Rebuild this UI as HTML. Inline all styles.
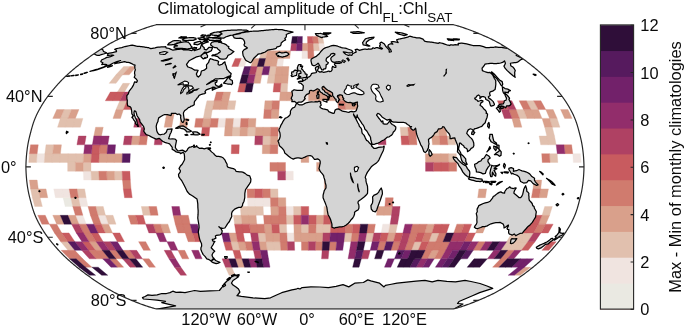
<!DOCTYPE html>
<html><head><meta charset="utf-8"><title>Climatological amplitude of ChlFL:ChlSAT</title>
<style>html,body{margin:0;padding:0;background:#fff;overflow:hidden}svg{display:block}</style></head>
<body><svg width="685" height="326" viewBox="0 0 685 326">
<defs><clipPath id="fc"><path d="M453.46,24.72 L454.43,24.97 L455.43,25.24 L456.47,25.52 L457.54,25.83 L458.64,26.17 L459.78,26.52 L460.95,26.89 L462.15,27.28 L463.37,27.69 L464.62,28.12 L465.90,28.57 L467.20,29.03 L468.53,29.51 L469.87,30.01 L471.24,30.53 L472.62,31.06 L474.03,31.61 L475.44,32.17 L476.88,32.75 L478.32,33.34 L479.78,33.94 L481.25,34.56 L482.72,35.19 L484.19,35.83 L485.66,36.48 L487.12,37.14 L488.57,37.80 L490.01,38.48 L491.42,39.16 L492.81,39.85 L494.17,40.54 L495.51,41.23 L496.82,41.93 L498.11,42.64 L499.38,43.35 L500.63,44.06 L501.86,44.78 L503.08,45.51 L504.28,46.23 L505.48,46.97 L506.66,47.70 L507.83,48.45 L509.00,49.19 L510.15,49.94 L511.30,50.70 L512.44,51.45 L513.58,52.22 L514.71,52.98 L515.83,53.75 L516.95,54.53 L518.06,55.30 L519.16,56.08 L520.26,56.87 L521.36,57.66 L522.45,58.45 L523.53,59.24 L524.61,60.04 L525.68,60.84 L526.74,61.64 L527.80,62.44 L528.85,63.25 L529.89,64.06 L530.93,64.88 L531.96,65.69 L532.98,66.51 L533.99,67.33 L535.00,68.16 L535.99,68.98 L536.98,69.81 L537.96,70.64 L538.93,71.48 L539.89,72.31 L540.84,73.15 L541.78,73.99 L542.70,74.83 L543.62,75.68 L544.52,76.52 L545.41,77.37 L546.28,78.22 L547.14,79.07 L547.98,79.93 L548.81,80.78 L549.62,81.64 L550.42,82.49 L551.22,83.35 L552.00,84.22 L552.77,85.08 L553.53,85.94 L554.29,86.81 L555.04,87.67 L555.78,88.54 L556.52,89.41 L557.26,90.28 L557.98,91.15 L558.70,92.02 L559.41,92.89 L560.11,93.76 L560.79,94.63 L561.46,95.51 L562.12,96.38 L562.77,97.26 L563.40,98.14 L564.02,99.01 L564.62,99.89 L565.22,100.77 L565.80,101.65 L566.37,102.53 L566.92,103.41 L567.47,104.29 L568.01,105.17 L568.54,106.05 L569.06,106.93 L569.57,107.81 L570.07,108.69 L570.56,109.57 L571.04,110.45 L571.51,111.33 L571.96,112.22 L572.41,113.10 L572.84,113.98 L573.26,114.86 L573.67,115.74 L574.06,116.62 L574.44,117.50 L574.81,118.39 L575.17,119.27 L575.51,120.15 L575.84,121.03 L576.16,121.91 L576.47,122.79 L576.76,123.67 L577.04,124.55 L577.32,125.43 L577.58,126.32 L577.83,127.20 L578.08,128.08 L578.33,128.96 L578.56,129.84 L578.80,130.72 L579.03,131.60 L579.27,132.48 L579.50,133.36 L579.73,134.25 L579.96,135.13 L580.18,136.01 L580.40,136.89 L580.61,137.77 L580.82,138.65 L581.02,139.53 L581.21,140.41 L581.40,141.30 L581.57,142.18 L581.74,143.06 L581.90,143.94 L582.05,144.82 L582.20,145.70 L582.34,146.58 L582.47,147.46 L582.60,148.35 L582.72,149.23 L582.83,150.11 L582.94,150.99 L583.04,151.87 L583.14,152.75 L583.23,153.63 L583.32,154.51 L583.40,155.39 L583.48,156.28 L583.55,157.16 L583.61,158.04 L583.67,158.92 L583.73,159.80 L583.78,160.68 L583.82,161.56 L583.86,162.44 L583.90,163.33 L583.93,164.21 L583.96,165.09 L583.98,165.97 L584.00,166.85 L583.98,167.73 L583.96,168.61 L583.93,169.49 L583.90,170.37 L583.86,171.26 L583.82,172.14 L583.78,173.02 L583.73,173.90 L583.67,174.78 L583.61,175.66 L583.55,176.54 L583.48,177.42 L583.40,178.31 L583.32,179.19 L583.23,180.07 L583.14,180.95 L583.04,181.83 L582.94,182.71 L582.83,183.59 L582.72,184.47 L582.60,185.35 L582.47,186.24 L582.34,187.12 L582.20,188.00 L582.05,188.88 L581.90,189.76 L581.74,190.64 L581.57,191.52 L581.40,192.40 L581.21,193.29 L581.02,194.17 L580.82,195.05 L580.61,195.93 L580.40,196.81 L580.18,197.69 L579.96,198.57 L579.73,199.45 L579.50,200.34 L579.27,201.22 L579.03,202.10 L578.80,202.98 L578.56,203.86 L578.33,204.74 L578.08,205.62 L577.83,206.50 L577.58,207.38 L577.32,208.27 L577.04,209.15 L576.76,210.03 L576.47,210.91 L576.16,211.79 L575.84,212.67 L575.51,213.55 L575.17,214.43 L574.81,215.31 L574.44,216.20 L574.06,217.08 L573.67,217.96 L573.26,218.84 L572.84,219.72 L572.41,220.60 L571.96,221.48 L571.51,222.37 L571.04,223.25 L570.56,224.13 L570.07,225.01 L569.57,225.89 L569.06,226.77 L568.54,227.65 L568.01,228.53 L567.47,229.41 L566.92,230.29 L566.37,231.17 L565.80,232.05 L565.22,232.93 L564.62,233.81 L564.02,234.69 L563.40,235.56 L562.77,236.44 L562.12,237.32 L561.46,238.19 L560.79,239.07 L560.11,239.94 L559.41,240.81 L558.70,241.68 L557.98,242.55 L557.26,243.42 L556.52,244.29 L555.78,245.16 L555.04,246.03 L554.29,246.89 L553.53,247.76 L552.77,248.62 L552.00,249.48 L551.22,250.35 L550.42,251.21 L549.62,252.06 L548.81,252.92 L547.98,253.77 L547.14,254.63 L546.28,255.48 L545.41,256.33 L544.52,257.18 L543.62,258.02 L542.70,258.87 L541.78,259.71 L540.84,260.55 L539.89,261.39 L538.93,262.22 L537.96,263.06 L536.98,263.89 L535.99,264.72 L535.00,265.54 L533.99,266.37 L532.98,267.19 L531.96,268.01 L530.93,268.82 L529.89,269.64 L528.85,270.45 L527.80,271.26 L526.74,272.06 L525.68,272.86 L524.61,273.66 L523.53,274.46 L522.45,275.25 L521.36,276.04 L520.26,276.83 L519.16,277.62 L518.06,278.40 L516.95,279.17 L515.83,279.95 L514.71,280.72 L513.58,281.48 L512.44,282.25 L511.30,283.00 L510.15,283.76 L509.00,284.51 L507.83,285.25 L506.66,286.00 L505.48,286.73 L504.28,287.47 L503.08,288.19 L501.86,288.92 L500.63,289.64 L499.38,290.35 L498.11,291.06 L496.82,291.77 L495.51,292.47 L494.17,293.16 L492.81,293.85 L491.42,294.54 L490.01,295.22 L488.57,295.90 L487.12,296.56 L485.66,297.22 L484.19,297.87 L482.72,298.51 L481.25,299.14 L479.78,299.76 L478.32,300.36 L476.88,300.95 L475.44,301.53 L474.03,302.09 L472.62,302.64 L471.24,303.17 L469.87,303.69 L468.53,304.19 L467.20,304.67 L465.90,305.13 L464.62,305.58 L463.37,306.01 L462.15,306.42 L460.95,306.81 L459.78,307.18 L458.64,307.53 L457.54,307.87 L456.47,308.18 L455.43,308.46 L454.43,308.73 L453.46,308.98 L156.44,308.98 L155.47,308.73 L154.47,308.46 L153.43,308.18 L152.36,307.87 L151.26,307.53 L150.12,307.18 L148.95,306.81 L147.75,306.42 L146.53,306.01 L145.28,305.58 L144.00,305.13 L142.70,304.67 L141.37,304.19 L140.03,303.69 L138.66,303.17 L137.28,302.64 L135.87,302.09 L134.46,301.53 L133.02,300.95 L131.58,300.36 L130.12,299.76 L128.65,299.14 L127.18,298.51 L125.71,297.87 L124.24,297.22 L122.78,296.56 L121.33,295.90 L119.89,295.22 L118.48,294.54 L117.09,293.85 L115.73,293.16 L114.39,292.47 L113.08,291.77 L111.79,291.06 L110.52,290.35 L109.27,289.64 L108.04,288.92 L106.82,288.19 L105.62,287.47 L104.42,286.73 L103.24,286.00 L102.07,285.25 L100.90,284.51 L99.75,283.76 L98.60,283.00 L97.46,282.25 L96.32,281.48 L95.19,280.72 L94.07,279.95 L92.95,279.17 L91.84,278.40 L90.74,277.62 L89.64,276.83 L88.54,276.04 L87.45,275.25 L86.37,274.46 L85.29,273.66 L84.22,272.86 L83.16,272.06 L82.10,271.26 L81.05,270.45 L80.01,269.64 L78.97,268.82 L77.94,268.01 L76.92,267.19 L75.91,266.37 L74.90,265.54 L73.91,264.72 L72.92,263.89 L71.94,263.06 L70.97,262.22 L70.01,261.39 L69.06,260.55 L68.12,259.71 L67.20,258.87 L66.28,258.02 L65.38,257.18 L64.49,256.33 L63.62,255.48 L62.76,254.63 L61.92,253.77 L61.09,252.92 L60.28,252.06 L59.48,251.21 L58.68,250.35 L57.90,249.48 L57.13,248.62 L56.37,247.76 L55.61,246.89 L54.86,246.03 L54.12,245.16 L53.38,244.29 L52.64,243.42 L51.92,242.55 L51.20,241.68 L50.49,240.81 L49.79,239.94 L49.11,239.07 L48.44,238.19 L47.78,237.32 L47.13,236.44 L46.50,235.56 L45.88,234.69 L45.28,233.81 L44.68,232.93 L44.10,232.05 L43.53,231.17 L42.98,230.29 L42.43,229.41 L41.89,228.53 L41.36,227.65 L40.84,226.77 L40.33,225.89 L39.83,225.01 L39.34,224.13 L38.86,223.25 L38.39,222.37 L37.94,221.48 L37.49,220.60 L37.06,219.72 L36.64,218.84 L36.23,217.96 L35.84,217.08 L35.46,216.20 L35.09,215.31 L34.73,214.43 L34.39,213.55 L34.06,212.67 L33.74,211.79 L33.43,210.91 L33.14,210.03 L32.86,209.15 L32.58,208.27 L32.32,207.38 L32.07,206.50 L31.82,205.62 L31.57,204.74 L31.34,203.86 L31.10,202.98 L30.87,202.10 L30.63,201.22 L30.40,200.34 L30.17,199.45 L29.94,198.57 L29.72,197.69 L29.50,196.81 L29.29,195.93 L29.08,195.05 L28.88,194.17 L28.69,193.29 L28.50,192.40 L28.33,191.52 L28.16,190.64 L28.00,189.76 L27.85,188.88 L27.70,188.00 L27.56,187.12 L27.43,186.24 L27.30,185.35 L27.18,184.47 L27.07,183.59 L26.96,182.71 L26.86,181.83 L26.76,180.95 L26.67,180.07 L26.58,179.19 L26.50,178.31 L26.42,177.42 L26.35,176.54 L26.29,175.66 L26.23,174.78 L26.17,173.90 L26.12,173.02 L26.08,172.14 L26.04,171.26 L26.00,170.37 L25.97,169.49 L25.94,168.61 L25.92,167.73 L25.90,166.85 L25.92,165.97 L25.94,165.09 L25.97,164.21 L26.00,163.33 L26.04,162.44 L26.08,161.56 L26.12,160.68 L26.17,159.80 L26.23,158.92 L26.29,158.04 L26.35,157.16 L26.42,156.28 L26.50,155.39 L26.58,154.51 L26.67,153.63 L26.76,152.75 L26.86,151.87 L26.96,150.99 L27.07,150.11 L27.18,149.23 L27.30,148.35 L27.43,147.46 L27.56,146.58 L27.70,145.70 L27.85,144.82 L28.00,143.94 L28.16,143.06 L28.33,142.18 L28.50,141.30 L28.69,140.41 L28.88,139.53 L29.08,138.65 L29.29,137.77 L29.50,136.89 L29.72,136.01 L29.94,135.13 L30.17,134.25 L30.40,133.36 L30.63,132.48 L30.87,131.60 L31.10,130.72 L31.34,129.84 L31.57,128.96 L31.82,128.08 L32.07,127.20 L32.32,126.32 L32.58,125.43 L32.86,124.55 L33.14,123.67 L33.43,122.79 L33.74,121.91 L34.06,121.03 L34.39,120.15 L34.73,119.27 L35.09,118.39 L35.46,117.50 L35.84,116.62 L36.23,115.74 L36.64,114.86 L37.06,113.98 L37.49,113.10 L37.94,112.22 L38.39,111.33 L38.86,110.45 L39.34,109.57 L39.83,108.69 L40.33,107.81 L40.84,106.93 L41.36,106.05 L41.89,105.17 L42.43,104.29 L42.98,103.41 L43.53,102.53 L44.10,101.65 L44.68,100.77 L45.28,99.89 L45.88,99.01 L46.50,98.14 L47.13,97.26 L47.78,96.38 L48.44,95.51 L49.11,94.63 L49.79,93.76 L50.49,92.89 L51.20,92.02 L51.92,91.15 L52.64,90.28 L53.38,89.41 L54.12,88.54 L54.86,87.67 L55.61,86.81 L56.37,85.94 L57.13,85.08 L57.90,84.22 L58.68,83.35 L59.48,82.49 L60.28,81.64 L61.09,80.78 L61.92,79.93 L62.76,79.07 L63.62,78.22 L64.49,77.37 L65.38,76.52 L66.28,75.68 L67.20,74.83 L68.12,73.99 L69.06,73.15 L70.01,72.31 L70.97,71.48 L71.94,70.64 L72.92,69.81 L73.91,68.98 L74.90,68.16 L75.91,67.33 L76.92,66.51 L77.94,65.69 L78.97,64.88 L80.01,64.06 L81.05,63.25 L82.10,62.44 L83.16,61.64 L84.22,60.84 L85.29,60.04 L86.37,59.24 L87.45,58.45 L88.54,57.66 L89.64,56.87 L90.74,56.08 L91.84,55.30 L92.95,54.53 L94.07,53.75 L95.19,52.98 L96.32,52.22 L97.46,51.45 L98.60,50.70 L99.75,49.94 L100.90,49.19 L102.07,48.45 L103.24,47.70 L104.42,46.97 L105.62,46.23 L106.82,45.51 L108.04,44.78 L109.27,44.06 L110.52,43.35 L111.79,42.64 L113.08,41.93 L114.39,41.23 L115.73,40.54 L117.09,39.85 L118.48,39.16 L119.89,38.48 L121.33,37.80 L122.78,37.14 L124.24,36.48 L125.71,35.83 L127.18,35.19 L128.65,34.56 L130.12,33.94 L131.58,33.34 L133.02,32.75 L134.46,32.17 L135.87,31.61 L137.28,31.06 L138.66,30.53 L140.03,30.01 L141.37,29.51 L142.70,29.03 L144.00,28.57 L145.28,28.12 L146.53,27.69 L147.75,27.28 L148.95,26.89 L150.12,26.52 L151.26,26.17 L152.36,25.83 L153.43,25.52 L154.47,25.24 L155.47,24.97 L156.44,24.72Z"/></clipPath></defs>
<g clip-path="url(#fc)">
<path fill="#eae9e2" stroke="#eae9e2" stroke-width="0.35" d="M63.11,197.69L70.79,197.69L72.78,206.50L65.17,206.50Z"/>
<path fill="#f0e4e0" stroke="#f0e4e0" stroke-width="0.35" d="M37.14,153.63L44.90,153.63L44.31,162.44L36.53,162.44ZM83.21,171.26L90.99,171.26L91.48,180.07L83.72,180.07ZM302.07,50.70L307.83,50.70L307.98,58.45L301.92,58.45ZM241.25,58.45L247.31,58.45L244.52,66.51L238.16,66.51ZM277.65,58.45L283.72,58.45L282.69,66.51L276.33,66.51ZM318.51,43.35L323.93,43.35L325.10,50.70L319.34,50.70ZM301.41,92.02L308.49,92.02L308.58,100.77L301.32,100.77ZM218.38,118.39L225.91,118.39L225.02,127.20L217.41,127.20ZM233.44,118.39L240.96,118.39L240.25,127.20L232.64,127.20ZM285.50,171.26L293.28,171.26L293.31,180.07L285.54,180.07ZM247.37,197.69L255.05,197.69L255.47,206.50L247.86,206.50ZM255.05,197.69L262.72,197.69L263.08,206.50L255.47,206.50ZM262.72,197.69L270.40,197.69L270.70,206.50L263.08,206.50ZM285.92,206.50L293.53,206.50L293.66,215.31L286.13,215.31ZM286.80,232.93L294.06,232.93L294.33,241.68L287.25,241.68ZM53.73,188.88L61.46,188.88L63.11,197.69L55.43,197.69ZM61.46,188.88L69.19,188.88L70.79,197.69L63.11,197.69ZM78.47,197.69L86.14,197.69L88.01,206.50L80.40,206.50ZM75.36,215.31L82.88,215.31L86.38,224.13L78.97,224.13ZM97.94,215.31L105.47,215.31L108.61,224.13L101.20,224.13ZM382.75,224.13L390.15,224.13L388.44,232.93L381.18,232.93ZM572.76,153.63L580.52,153.63L581.15,162.44L573.37,162.44Z"/>
<path fill="#e1c0ae" stroke="#e1c0ae" stroke-width="0.35" d="M119.82,100.77L127.08,100.77L123.43,109.57L116.02,109.57ZM64.15,109.57L71.56,109.57L67.83,118.39L60.30,118.39ZM60.30,118.39L67.83,118.39L65.17,127.20L57.56,127.20ZM67.83,118.39L75.36,118.39L72.78,127.20L65.17,127.20ZM75.36,118.39L82.88,118.39L80.40,127.20L72.78,127.20ZM46.01,144.82L53.73,144.82L52.67,153.63L44.90,153.63ZM29.38,153.63L37.14,153.63L36.53,162.44L28.75,162.44ZM44.90,153.63L52.67,153.63L52.09,162.44L44.31,162.44ZM52.67,153.63L60.43,153.63L59.87,162.44L52.09,162.44ZM60.43,153.63L68.19,153.63L67.65,162.44L59.87,162.44ZM68.19,153.63L75.95,153.63L75.43,162.44L67.65,162.44ZM75.95,153.63L83.72,153.63L83.21,162.44L75.43,162.44ZM67.65,162.44L75.43,162.44L75.43,171.26L67.65,171.26ZM83.21,162.44L90.99,162.44L90.99,171.26L83.21,171.26ZM90.99,171.26L98.78,171.26L99.24,180.07L91.48,180.07ZM114.34,171.26L122.12,171.26L122.53,180.07L114.77,180.07ZM123.67,66.51L130.03,66.51L122.57,74.83L115.94,74.83ZM115.94,74.83L122.57,74.83L116.04,83.35L109.17,83.35ZM122.91,83.35L129.78,83.35L124.46,92.02L117.38,92.02ZM313.09,43.35L318.51,43.35L319.34,50.70L313.58,50.70ZM261.78,50.70L267.54,50.70L265.51,58.45L259.45,58.45ZM269.97,66.51L276.33,66.51L275.11,74.83L268.47,74.83ZM268.47,74.83L275.11,74.83L274.04,83.35L267.17,83.35ZM280.91,83.35L287.78,83.35L287.25,92.02L280.18,92.02ZM206.94,100.77L214.20,100.77L212.34,109.57L204.93,109.57ZM228.72,100.77L235.98,100.77L234.56,109.57L227.15,109.57ZM317.55,36.48L322.59,36.48L323.93,43.35L318.51,43.35ZM204.93,109.57L212.34,109.57L210.85,118.39L203.33,118.39ZM232.64,127.20L240.25,127.20L239.69,136.01L232.01,136.01ZM247.86,127.20L255.47,127.20L255.05,136.01L247.37,136.01ZM262.72,136.01L270.40,136.01L270.17,144.82L262.44,144.82ZM270.17,188.88L277.90,188.88L278.08,197.69L270.40,197.69ZM240.25,206.50L247.86,206.50L248.49,215.31L240.96,215.31ZM247.86,206.50L255.47,206.50L256.02,215.31L248.49,215.31ZM255.47,206.50L263.08,206.50L263.55,215.31L256.02,215.31ZM293.53,206.50L301.14,206.50L301.19,215.31L293.66,215.31ZM233.44,215.31L240.96,215.31L241.97,224.13L234.56,224.13ZM286.13,215.31L293.66,215.31L293.84,224.13L286.43,224.13ZM279.02,224.13L286.43,224.13L286.80,232.93L279.54,232.93ZM301.25,224.13L308.65,224.13L308.58,232.93L301.32,232.93ZM257.76,232.93L265.02,232.93L266.02,241.68L258.94,241.68ZM230.63,241.68L237.71,241.68L239.69,250.35L232.82,250.35ZM266.02,241.68L273.10,241.68L274.04,250.35L267.17,250.35ZM273.10,241.68L280.18,241.68L280.91,250.35L274.04,250.35ZM225.44,267.19L231.80,267.19L235.18,275.25L229.11,275.25ZM30.55,188.88L38.28,188.88L40.08,197.69L32.40,197.69ZM76.92,188.88L84.65,188.88L86.14,197.69L78.47,197.69ZM32.40,197.69L40.08,197.69L42.34,206.50L34.73,206.50ZM70.79,197.69L78.47,197.69L80.40,206.50L72.78,206.50ZM95.62,206.50L103.23,206.50L105.47,215.31L97.94,215.31ZM60.75,241.68L67.83,241.68L74.82,250.35L67.95,250.35ZM141.29,206.50L148.90,206.50L150.63,215.31L143.11,215.31ZM105.47,215.31L112.99,215.31L116.02,224.13L108.61,224.13ZM400.10,127.20L407.71,127.20L408.59,136.01L400.92,136.01ZM430.55,127.20L438.16,127.20L439.30,136.01L431.63,136.01ZM446.98,136.01L454.66,136.01L455.68,144.82L447.95,144.82ZM448.56,153.63L456.32,153.63L456.66,162.44L448.88,162.44ZM390.15,224.13L397.56,224.13L395.70,232.93L388.44,232.93ZM316.06,224.13L323.47,224.13L323.10,232.93L315.84,232.93ZM323.47,224.13L330.88,224.13L330.36,232.93L323.10,232.93ZM344.88,232.93L352.14,232.93L350.96,241.68L343.88,241.68ZM366.66,232.93L373.92,232.93L372.19,241.68L365.11,241.68ZM432.00,232.93L439.26,232.93L435.90,241.68L428.82,241.68ZM414.66,241.68L421.74,241.68L418.30,250.35L411.43,250.35ZM511.86,232.93L519.12,232.93L513.76,241.68L506.68,241.68ZM519.12,232.93L526.38,232.93L520.84,241.68L513.76,241.68ZM526.38,232.93L533.64,232.93L527.91,241.68L520.84,241.68ZM506.68,241.68L513.76,241.68L507.60,250.35L500.73,250.35ZM513.76,241.68L520.84,241.68L514.47,250.35L507.60,250.35ZM520.84,241.68L527.91,241.68L521.34,250.35L514.47,250.35ZM544.73,206.50L552.34,206.50L549.60,215.31L542.07,215.31ZM526.38,100.77L533.64,100.77L538.34,109.57L530.93,109.57ZM516.11,109.57L523.52,109.57L527.02,118.39L519.49,118.39ZM549.60,118.39L557.13,118.39L559.95,127.20L552.34,127.20ZM544.73,127.20L552.34,127.20L554.47,136.01L546.79,136.01ZM539.11,136.01L546.79,136.01L548.44,144.82L540.71,144.82ZM546.79,136.01L554.47,136.01L556.17,144.82L548.44,144.82ZM549.47,153.63L557.23,153.63L557.81,162.44L550.03,162.44ZM323.98,206.50L331.59,206.50L331.30,215.31L323.77,215.31Z"/>
<path fill="#d9a08b" stroke="#d9a08b" stroke-width="0.35" d="M56.74,109.57L64.15,109.57L60.30,118.39L52.77,118.39ZM71.56,109.57L78.97,109.57L75.36,118.39L67.83,118.39ZM116.02,109.57L123.43,109.57L120.52,118.39L112.99,118.39ZM95.62,127.20L103.23,127.20L101.50,136.01L93.82,136.01ZM132.21,136.01L139.89,136.01L138.76,144.82L131.03,144.82ZM53.73,144.82L61.46,144.82L60.43,153.63L52.67,153.63ZM83.72,153.63L91.48,153.63L90.99,162.44L83.21,162.44ZM99.24,153.63L107.00,153.63L106.56,162.44L98.78,162.44ZM107.00,153.63L114.77,153.63L114.34,162.44L106.56,162.44ZM114.77,153.63L122.53,153.63L122.12,162.44L114.34,162.44ZM75.43,162.44L83.21,162.44L83.21,171.26L75.43,171.26ZM106.56,171.26L114.34,171.26L114.77,180.07L107.00,180.07ZM29.38,180.07L37.14,180.07L38.28,188.88L30.55,188.88ZM130.03,66.51L136.39,66.51L129.20,74.83L122.57,74.83ZM302.24,43.35L307.66,43.35L307.83,50.70L302.07,50.70ZM267.54,50.70L273.29,50.70L271.58,58.45L265.51,58.45ZM273.29,50.70L279.05,50.70L277.65,58.45L271.58,58.45ZM279.05,50.70L284.80,50.70L283.72,58.45L277.65,58.45ZM284.80,50.70L290.56,50.70L289.78,58.45L283.72,58.45ZM253.38,58.45L259.45,58.45L257.24,66.51L250.88,66.51ZM265.51,58.45L271.58,58.45L269.97,66.51L263.61,66.51ZM271.58,58.45L277.65,58.45L276.33,66.51L269.97,66.51ZM257.24,66.51L263.61,66.51L261.84,74.83L255.21,74.83ZM276.33,66.51L282.69,66.51L281.74,74.83L275.11,74.83ZM282.69,66.51L289.05,66.51L288.37,74.83L281.74,74.83ZM255.21,74.83L261.84,74.83L260.30,83.35L253.43,83.35ZM275.11,74.83L281.74,74.83L280.91,83.35L274.04,83.35ZM281.74,74.83L288.37,74.83L287.78,83.35L280.91,83.35ZM223.55,92.02L230.63,92.02L228.72,100.77L221.46,100.77ZM280.18,92.02L287.25,92.02L286.80,100.77L279.54,100.77ZM287.25,92.02L294.33,92.02L294.06,100.77L286.80,100.77ZM214.20,100.77L221.46,100.77L219.75,109.57L212.34,109.57ZM221.46,100.77L228.72,100.77L227.15,109.57L219.75,109.57ZM265.02,100.77L272.28,100.77L271.61,109.57L264.20,109.57ZM271.61,109.57L279.02,109.57L278.60,118.39L271.08,118.39ZM308.49,92.02L315.57,92.02L315.84,100.77L308.58,100.77ZM315.57,92.02L322.65,92.02L323.10,100.77L315.84,100.77ZM308.38,83.35L315.25,83.35L315.57,92.02L308.49,92.02ZM315.25,83.35L322.12,83.35L322.65,92.02L315.57,92.02ZM322.12,83.35L328.99,83.35L329.72,92.02L322.65,92.02ZM322.65,92.02L329.72,92.02L330.36,100.77L323.10,100.77ZM329.72,92.02L336.80,92.02L337.62,100.77L330.36,100.77ZM336.80,92.02L343.88,92.02L344.88,100.77L337.62,100.77ZM344.88,100.77L352.14,100.77L353.11,109.57L345.70,109.57ZM352.14,100.77L359.40,100.77L360.52,109.57L353.11,109.57ZM203.33,118.39L210.85,118.39L209.80,127.20L202.19,127.20ZM225.91,118.39L233.44,118.39L232.64,127.20L225.02,127.20ZM248.49,118.39L256.02,118.39L255.47,127.20L247.86,127.20ZM167.88,109.57L175.29,109.57L173.22,118.39L165.69,118.39ZM165.69,118.39L173.22,118.39L171.74,127.20L164.13,127.20ZM180.74,118.39L188.27,118.39L186.96,127.20L179.35,127.20ZM225.02,127.20L232.64,127.20L232.01,136.01L224.34,136.01ZM240.25,127.20L247.86,127.20L247.37,136.01L239.69,136.01ZM255.47,127.20L263.08,127.20L262.72,136.01L255.05,136.01ZM263.08,127.20L270.70,127.20L270.40,136.01L262.72,136.01ZM270.40,136.01L278.08,136.01L277.90,144.82L270.17,144.82ZM262.44,144.82L270.17,144.82L270.02,153.63L262.26,153.63ZM301.07,153.63L308.83,153.63L308.84,162.44L301.06,162.44ZM278.08,197.69L285.76,197.69L285.92,206.50L278.31,206.50ZM270.70,206.50L278.31,206.50L278.60,215.31L271.08,215.31ZM240.96,215.31L248.49,215.31L249.38,224.13L241.97,224.13ZM248.49,215.31L256.02,215.31L256.79,224.13L249.38,224.13ZM264.20,224.13L271.61,224.13L272.28,232.93L265.02,232.93ZM293.84,224.13L301.25,224.13L301.32,232.93L294.06,232.93ZM228.72,232.93L235.98,232.93L237.71,241.68L230.63,241.68ZM265.02,232.93L272.28,232.93L273.10,241.68L266.02,241.68ZM272.28,232.93L279.54,232.93L280.18,241.68L273.10,241.68ZM294.06,232.93L301.32,232.93L301.41,241.68L294.33,241.68ZM301.32,232.93L308.58,232.93L308.49,241.68L301.41,241.68ZM308.58,232.93L315.84,232.93L315.57,241.68L308.49,241.68ZM237.71,241.68L244.79,241.68L246.56,250.35L239.69,250.35ZM258.94,241.68L266.02,241.68L267.17,250.35L260.30,250.35ZM235.31,258.87L241.95,258.87L244.52,267.19L238.16,267.19ZM38.28,188.88L46.01,188.88L47.76,197.69L40.08,197.69ZM52.77,215.31L60.30,215.31L64.15,224.13L56.74,224.13ZM67.83,215.31L75.36,215.31L78.97,224.13L71.56,224.13ZM101.20,224.13L108.61,224.13L112.56,232.93L105.30,232.93ZM89.06,241.68L96.14,241.68L102.30,250.35L95.43,250.35ZM160.47,224.13L167.88,224.13L170.64,232.93L163.38,232.93ZM438.16,127.20L445.77,127.20L446.98,136.01L439.30,136.01ZM431.63,136.01L439.30,136.01L440.22,144.82L432.49,144.82ZM425.27,153.63L433.03,153.63L433.32,162.44L425.54,162.44ZM433.03,153.63L440.79,153.63L441.10,162.44L433.32,162.44ZM440.79,153.63L448.56,153.63L448.88,162.44L441.10,162.44ZM377.26,206.50L384.88,206.50L383.99,215.31L376.46,215.31ZM384.88,206.50L392.49,206.50L391.52,215.31L383.99,215.31ZM427.20,224.13L434.61,224.13L432.00,232.93L424.74,232.93ZM315.84,232.93L323.10,232.93L322.65,241.68L315.57,241.68ZM388.44,232.93L395.70,232.93L393.43,241.68L386.35,241.68ZM432.03,250.35L438.90,250.35L434.27,258.87L427.64,258.87ZM479.06,224.13L486.47,224.13L482.82,232.93L475.56,232.93ZM540.71,188.88L548.44,188.88L546.79,197.69L539.11,197.69ZM542.07,215.31L549.60,215.31L545.75,224.13L538.34,224.13ZM523.52,109.57L530.93,109.57L534.54,118.39L527.02,118.39ZM530.93,109.57L538.34,109.57L542.07,118.39L534.54,118.39ZM545.75,109.57L553.16,109.57L557.13,118.39L549.60,118.39ZM560.56,109.57L567.97,109.57L572.18,118.39L564.65,118.39ZM511.96,118.39L519.49,118.39L521.89,127.20L514.28,127.20ZM542.07,118.39L549.60,118.39L552.34,127.20L544.73,127.20ZM533.95,180.07L541.71,180.07L540.71,188.88L532.98,188.88ZM316.62,162.44L324.40,162.44L324.40,171.26L316.62,171.26ZM324.36,180.07L332.12,180.07L332.00,188.88L324.27,188.88ZM478.87,188.88L486.60,188.88L485.37,197.69L477.69,197.69ZM524.40,267.19L530.76,267.19L520.33,275.25L514.26,275.25ZM316.24,215.31L323.77,215.31L323.47,224.13L316.06,224.13Z"/>
<path fill="#d07b6e" stroke="#d07b6e" stroke-width="0.35" d="M139.89,136.01L147.56,136.01L146.49,144.82L138.76,144.82ZM30.55,144.82L38.28,144.82L37.14,153.63L29.38,153.63ZM100.11,144.82L107.84,144.82L107.00,153.63L99.24,153.63ZM98.78,171.26L106.56,171.26L107.00,180.07L99.24,180.07ZM122.53,180.07L130.29,180.07L131.03,188.88L123.30,188.88ZM312.51,36.48L317.55,36.48L318.51,43.35L313.09,43.35ZM307.66,43.35L313.09,43.35L313.58,50.70L307.83,50.70ZM307.83,50.70L313.58,50.70L314.05,58.45L307.98,58.45ZM216.47,92.02L223.55,92.02L221.46,100.77L214.20,100.77ZM272.28,100.77L279.54,100.77L279.02,109.57L271.61,109.57ZM264.20,109.57L271.61,109.57L271.08,118.39L263.55,118.39ZM337.62,100.77L344.88,100.77L345.70,109.57L338.29,109.57ZM195.80,118.39L203.33,118.39L202.19,127.20L194.58,127.20ZM210.85,118.39L218.38,118.39L217.41,127.20L209.80,127.20ZM240.96,118.39L248.49,118.39L247.86,127.20L240.25,127.20ZM270.70,127.20L278.31,127.20L278.08,136.01L270.40,136.01ZM270.17,144.82L277.90,144.82L277.78,153.63L270.02,153.63ZM269.94,162.44L277.72,162.44L277.72,171.26L269.94,171.26ZM277.72,162.44L285.50,162.44L285.50,171.26L277.72,171.26ZM246.98,188.88L254.71,188.88L255.05,197.69L247.37,197.69ZM262.44,188.88L270.17,188.88L270.40,197.69L262.72,197.69ZM270.40,197.69L278.08,197.69L278.31,206.50L270.70,206.50ZM278.31,206.50L285.92,206.50L286.13,215.31L278.60,215.31ZM263.55,215.31L271.08,215.31L271.61,224.13L264.20,224.13ZM271.08,215.31L278.60,215.31L279.02,224.13L271.61,224.13ZM278.60,215.31L286.13,215.31L286.43,224.13L279.02,224.13ZM249.38,224.13L256.79,224.13L257.76,232.93L250.50,232.93ZM256.79,224.13L264.20,224.13L265.02,232.93L257.76,232.93ZM308.65,224.13L316.06,224.13L315.84,232.93L308.58,232.93ZM279.54,232.93L286.80,232.93L287.25,241.68L280.18,241.68ZM244.79,241.68L251.86,241.68L253.43,250.35L246.56,250.35ZM280.18,241.68L287.25,241.68L287.78,250.35L280.91,250.35ZM301.41,241.68L308.49,241.68L308.38,250.35L301.52,250.35ZM69.19,188.88L76.92,188.88L78.47,197.69L70.79,197.69ZM72.78,206.50L80.40,206.50L82.88,215.31L75.36,215.31ZM88.01,206.50L95.62,206.50L97.94,215.31L90.41,215.31ZM37.72,215.31L45.25,215.31L49.34,224.13L41.93,224.13ZM90.41,215.31L97.94,215.31L101.20,224.13L93.79,224.13ZM49.34,224.13L56.74,224.13L61.74,232.93L54.48,232.93ZM78.97,224.13L86.38,224.13L90.78,232.93L83.52,232.93ZM54.48,232.93L61.74,232.93L67.83,241.68L60.75,241.68ZM83.52,232.93L90.78,232.93L96.14,241.68L89.06,241.68ZM61.08,250.35L67.95,250.35L76.14,258.87L69.51,258.87ZM67.95,250.35L74.82,250.35L82.78,258.87L76.14,258.87ZM88.56,250.35L95.43,250.35L102.67,258.87L96.04,258.87ZM95.43,250.35L102.30,250.35L109.30,258.87L102.67,258.87ZM109.17,250.35L116.04,250.35L122.57,258.87L115.94,258.87ZM76.14,258.87L82.78,258.87L91.86,267.19L85.50,267.19ZM109.30,258.87L115.94,258.87L123.67,267.19L117.31,267.19ZM153.06,224.13L160.47,224.13L163.38,232.93L156.12,232.93ZM138.61,241.68L145.69,241.68L150.39,250.35L143.52,250.35ZM122.91,250.35L129.78,250.35L135.83,258.87L129.20,258.87ZM185.16,232.93L192.42,232.93L195.24,241.68L188.16,241.68ZM177.87,250.35L184.73,250.35L188.89,258.87L182.26,258.87ZM142.47,258.87L149.10,258.87L155.47,267.19L149.11,267.19ZM173.22,215.31L180.74,215.31L182.70,224.13L175.29,224.13ZM180.74,215.31L188.27,215.31L190.11,224.13L182.70,224.13ZM182.70,224.13L190.11,224.13L192.42,232.93L185.16,232.93ZM148.90,206.50L156.52,206.50L158.16,215.31L150.63,215.31ZM128.05,215.31L135.58,215.31L138.24,224.13L130.84,224.13ZM175.29,224.13L182.70,224.13L185.16,232.93L177.90,232.93ZM407.71,127.20L415.32,127.20L416.27,136.01L408.59,136.01ZM408.59,136.01L416.27,136.01L417.03,144.82L409.30,144.82ZM439.30,136.01L446.98,136.01L447.95,144.82L440.22,144.82ZM448.88,162.44L456.66,162.44L456.66,171.26L448.88,171.26ZM385.56,197.69L393.24,197.69L392.49,206.50L384.88,206.50ZM367.93,224.13L375.34,224.13L373.92,232.93L366.66,232.93ZM412.38,224.13L419.79,224.13L417.48,232.93L410.22,232.93ZM419.79,224.13L427.20,224.13L424.74,232.93L417.48,232.93ZM345.70,224.13L353.11,224.13L352.14,232.93L344.88,232.93ZM352.14,232.93L359.40,232.93L358.04,241.68L350.96,241.68ZM315.57,241.68L322.65,241.68L322.12,250.35L315.25,250.35ZM329.72,241.68L336.80,241.68L335.86,250.35L328.99,250.35ZM456.84,224.13L464.25,224.13L461.04,232.93L453.78,232.93ZM410.22,232.93L417.48,232.93L414.66,241.68L407.58,241.68ZM424.74,232.93L432.00,232.93L428.82,241.68L421.74,241.68ZM439.26,232.93L446.52,232.93L442.98,241.68L435.90,241.68ZM379.27,241.68L386.35,241.68L383.95,250.35L377.08,250.35ZM393.43,241.68L400.51,241.68L397.69,250.35L390.82,250.35ZM407.58,241.68L414.66,241.68L411.43,250.35L404.56,250.35ZM428.82,241.68L435.90,241.68L432.03,250.35L425.17,250.35ZM435.90,241.68L442.98,241.68L438.90,250.35L432.03,250.35ZM442.98,241.68L450.05,241.68L445.77,250.35L438.90,250.35ZM425.17,250.35L432.03,250.35L427.64,258.87L421.01,258.87ZM438.90,250.35L445.77,250.35L440.91,258.87L434.27,258.87ZM478.37,241.68L485.44,241.68L480.12,250.35L473.25,250.35ZM507.60,250.35L514.47,250.35L507.23,258.87L500.60,258.87ZM532.98,188.88L540.71,188.88L539.11,197.69L531.43,197.69ZM538.34,224.13L545.75,224.13L540.90,232.93L533.64,232.93ZM500.60,258.87L507.23,258.87L498.95,267.19L492.59,267.19ZM519.12,100.77L526.38,100.77L530.93,109.57L523.52,109.57ZM533.64,100.77L540.90,100.77L545.75,109.57L538.34,109.57ZM508.70,109.57L516.11,109.57L519.49,118.39L511.96,118.39ZM563.89,144.82L571.62,144.82L572.76,153.63L565.00,153.63ZM541.71,153.63L549.47,153.63L550.03,162.44L542.25,162.44Z"/>
<path fill="#c85b5f" stroke="#c85b5f" stroke-width="0.35" d="M110.30,92.02L117.38,92.02L112.56,100.77L105.30,100.77ZM117.38,92.02L124.46,92.02L119.82,100.77L112.56,100.77ZM127.08,100.77L134.34,100.77L130.84,109.57L123.43,109.57ZM92.38,144.82L100.11,144.82L99.24,153.63L91.48,153.63ZM91.48,153.63L99.24,153.63L98.78,162.44L90.99,162.44ZM122.12,171.26L129.90,171.26L130.29,180.07L122.53,180.07ZM307.47,36.48L312.51,36.48L313.09,43.35L307.66,43.35ZM235.18,58.45L241.25,58.45L238.16,66.51L231.80,66.51ZM239.69,83.35L246.56,83.35L244.79,92.02L237.71,92.02ZM274.04,83.35L280.91,83.35L280.18,92.02L273.10,92.02ZM202.19,127.20L209.80,127.20L208.98,136.01L201.31,136.01ZM231.52,144.82L239.25,144.82L238.97,153.63L231.21,153.63ZM254.71,188.88L262.44,188.88L262.72,197.69L255.05,197.69ZM301.14,206.50L308.76,206.50L308.71,215.31L301.19,215.31ZM293.66,215.31L301.19,215.31L301.25,224.13L293.84,224.13ZM308.71,215.31L316.24,215.31L316.06,224.13L308.65,224.13ZM234.56,224.13L241.97,224.13L243.24,232.93L235.98,232.93ZM241.97,224.13L249.38,224.13L250.50,232.93L243.24,232.93ZM271.61,224.13L279.02,224.13L279.54,232.93L272.28,232.93ZM235.98,232.93L243.24,232.93L244.79,241.68L237.71,241.68ZM223.55,241.68L230.63,241.68L232.82,250.35L225.95,250.35ZM232.82,250.35L239.69,250.35L241.95,258.87L235.31,258.87ZM93.79,224.13L101.20,224.13L105.30,232.93L98.04,232.93ZM61.74,232.93L69.00,232.93L74.91,241.68L67.83,241.68ZM90.78,232.93L98.04,232.93L103.22,241.68L96.14,241.68ZM81.99,241.68L89.06,241.68L95.43,250.35L88.56,250.35ZM112.56,232.93L119.82,232.93L124.46,241.68L117.38,241.68ZM192.42,232.93L199.68,232.93L202.32,241.68L195.24,241.68ZM123.30,188.88L131.03,188.88L132.21,197.69L124.53,197.69ZM135.58,215.31L143.11,215.31L145.65,224.13L138.24,224.13ZM400.92,136.01L408.59,136.01L409.30,144.82L401.57,144.82ZM433.32,162.44L441.10,162.44L441.10,171.26L433.32,171.26ZM441.10,162.44L448.88,162.44L448.88,171.26L441.10,171.26ZM434.61,224.13L442.02,224.13L439.26,232.93L432.00,232.93ZM442.02,224.13L449.43,224.13L446.52,232.93L439.26,232.93ZM330.88,224.13L338.29,224.13L337.62,232.93L330.36,232.93ZM338.29,224.13L345.70,224.13L344.88,232.93L337.62,232.93ZM353.11,224.13L360.52,224.13L359.40,232.93L352.14,232.93ZM381.18,232.93L388.44,232.93L386.35,241.68L379.27,241.68ZM395.70,232.93L402.96,232.93L400.51,241.68L393.43,241.68ZM417.48,232.93L424.74,232.93L421.74,241.68L414.66,241.68ZM421.74,241.68L428.82,241.68L425.17,250.35L418.30,250.35ZM464.25,224.13L471.66,224.13L468.30,232.93L461.04,232.93ZM530.93,224.13L538.34,224.13L533.64,232.93L526.38,232.93ZM468.30,232.93L475.56,232.93L471.29,241.68L464.21,241.68ZM534.54,215.31L542.07,215.31L538.34,224.13L530.93,224.13ZM523.52,224.13L530.93,224.13L526.38,232.93L519.12,232.93ZM545.75,224.13L553.16,224.13L548.16,232.93L540.90,232.93ZM527.91,241.68L534.99,241.68L528.21,250.35L521.34,250.35ZM497.34,100.77L504.60,100.77L508.70,109.57L501.29,109.57ZM549.15,241.68L556.23,241.68L548.82,250.35L541.95,250.35ZM323.77,215.31L331.30,215.31L330.88,224.13L323.47,224.13Z"/>
<path fill="#af4163" stroke="#af4163" stroke-width="0.35" d="M124.46,92.02L131.53,92.02L127.08,100.77L119.82,100.77ZM135.58,118.39L143.11,118.39L141.29,127.20L133.68,127.20ZM141.29,127.20L148.90,127.20L147.56,136.01L139.89,136.01ZM78.47,136.01L86.14,136.01L84.65,144.82L76.92,144.82ZM124.53,136.01L132.21,136.01L131.03,144.82L123.30,144.82ZM155.24,136.01L162.92,136.01L161.95,144.82L154.22,144.82ZM291.39,43.35L296.81,43.35L296.32,50.70L290.56,50.70ZM250.88,66.51L257.24,66.51L255.21,74.83L248.58,74.83ZM255.05,136.01L262.72,136.01L262.44,144.82L254.71,144.82ZM277.72,171.26L285.50,171.26L285.54,180.07L277.78,180.07ZM250.50,232.93L257.76,232.93L258.94,241.68L251.86,241.68ZM287.25,241.68L294.33,241.68L294.65,250.35L287.78,250.35ZM308.49,241.68L315.57,241.68L315.25,250.35L308.38,250.35ZM253.43,250.35L260.30,250.35L261.84,258.87L255.21,258.87ZM222.05,258.87L228.68,258.87L231.80,267.19L225.44,267.19ZM71.56,224.13L78.97,224.13L83.52,232.93L76.26,232.93ZM103.22,241.68L110.30,241.68L116.04,250.35L109.17,250.35ZM81.69,250.35L88.56,250.35L96.04,258.87L89.41,258.87ZM145.65,224.13L153.06,224.13L156.12,232.93L148.86,232.93ZM129.78,250.35L136.65,250.35L142.47,258.87L135.83,258.87ZM164.13,250.35L171.00,250.35L175.63,258.87L168.99,258.87ZM122.57,258.87L129.20,258.87L136.39,267.19L130.03,267.19ZM174.55,267.19L180.92,267.19L186.64,275.25L180.58,275.25ZM377.89,136.01L385.56,136.01L386.11,144.82L378.38,144.82ZM425.54,162.44L433.32,162.44L433.32,171.26L425.54,171.26ZM392.49,206.50L400.10,206.50L399.05,215.31L391.52,215.31ZM391.52,215.31L399.05,215.31L397.56,224.13L390.15,224.13ZM323.10,232.93L330.36,232.93L329.72,241.68L322.65,241.68ZM373.92,232.93L381.18,232.93L379.27,241.68L372.19,241.68ZM322.12,250.35L328.99,250.35L328.16,258.87L321.53,258.87ZM363.34,250.35L370.21,250.35L367.95,258.87L361.32,258.87ZM402.96,232.93L410.22,232.93L407.58,241.68L400.51,241.68ZM400.51,241.68L407.58,241.68L404.56,250.35L397.69,250.35ZM453.78,232.93L461.04,232.93L457.13,241.68L450.05,241.68ZM461.04,232.93L468.30,232.93L464.21,241.68L457.13,241.68ZM533.64,232.93L540.90,232.93L534.99,241.68L527.91,241.68ZM504.60,100.77L511.86,100.77L516.11,109.57L508.70,109.57ZM501.29,109.57L508.70,109.57L511.96,118.39L504.43,118.39Z"/>
<path fill="#922d6b" stroke="#922d6b" stroke-width="0.35" d="M93.82,136.01L101.50,136.01L100.11,144.82L92.38,144.82ZM101.50,136.01L109.18,136.01L107.84,144.82L100.11,144.82ZM84.65,144.82L92.38,144.82L91.48,153.63L83.72,153.63ZM248.58,74.83L255.21,74.83L253.43,83.35L246.56,83.35ZM301.19,215.31L308.71,215.31L308.65,224.13L301.25,224.13ZM251.86,241.68L258.94,241.68L260.30,250.35L253.43,250.35ZM248.58,258.87L255.21,258.87L257.24,267.19L250.88,267.19ZM76.26,232.93L83.52,232.93L89.06,241.68L81.99,241.68ZM74.91,241.68L81.99,241.68L88.56,250.35L81.69,250.35ZM96.14,241.68L103.22,241.68L109.17,250.35L102.30,250.35ZM156.12,232.93L163.38,232.93L166.92,241.68L159.85,241.68ZM166.92,241.68L174.00,241.68L177.87,250.35L171.00,250.35ZM191.60,250.35L198.47,250.35L202.15,258.87L195.52,258.87ZM168.99,258.87L175.63,258.87L180.92,267.19L174.55,267.19ZM171.74,206.50L179.35,206.50L180.74,215.31L173.22,215.31ZM404.97,224.13L412.38,224.13L410.22,232.93L402.96,232.93ZM359.40,232.93L366.66,232.93L365.11,241.68L358.04,241.68ZM350.96,241.68L358.04,241.68L356.47,250.35L349.60,250.35ZM349.60,250.35L356.47,250.35L354.69,258.87L348.06,258.87ZM450.05,241.68L457.13,241.68L452.64,250.35L445.77,250.35ZM457.13,241.68L464.21,241.68L459.51,250.35L452.64,250.35ZM445.77,250.35L452.64,250.35L447.54,258.87L440.91,258.87ZM421.01,258.87L427.64,258.87L422.62,267.19L416.26,267.19ZM471.29,241.68L478.37,241.68L473.25,250.35L466.38,250.35ZM485.44,241.68L492.52,241.68L486.99,250.35L480.12,250.35ZM493.86,250.35L500.73,250.35L493.96,258.87L487.33,258.87ZM514.47,250.35L521.34,250.35L513.86,258.87L507.23,258.87ZM556.17,144.82L563.89,144.82L565.00,153.63L557.23,153.63Z"/>
<path fill="#72216a" stroke="#72216a" stroke-width="0.35" d="M107.84,144.82L115.57,144.82L114.77,153.63L107.00,153.63ZM296.81,43.35L302.24,43.35L302.07,50.70L296.32,50.70ZM263.61,66.51L269.97,66.51L268.47,74.83L261.84,74.83ZM221.46,232.93L228.72,232.93L230.63,241.68L223.55,241.68ZM260.30,250.35L267.17,250.35L268.47,258.87L261.84,258.87ZM261.84,258.87L268.47,258.87L269.97,267.19L263.61,267.19ZM86.38,224.13L93.79,224.13L98.04,232.93L90.78,232.93ZM110.30,241.68L117.38,241.68L122.91,250.35L116.04,250.35ZM102.67,258.87L109.30,258.87L117.31,267.19L110.95,267.19ZM190.11,224.13L197.52,224.13L199.68,232.93L192.42,232.93ZM330.36,232.93L337.62,232.93L336.80,241.68L329.72,241.68ZM337.62,232.93L344.88,232.93L343.88,241.68L336.80,241.68ZM336.80,241.68L343.88,241.68L342.73,250.35L335.86,250.35ZM372.19,241.68L379.27,241.68L377.08,250.35L370.21,250.35ZM404.56,250.35L411.43,250.35L407.75,258.87L401.11,258.87ZM452.64,250.35L459.51,250.35L454.17,258.87L447.54,258.87ZM387.85,258.87L394.48,258.87L390.82,267.19L384.46,267.19ZM427.64,258.87L434.27,258.87L428.98,267.19L422.62,267.19ZM440.91,258.87L447.54,258.87L441.71,267.19L435.35,267.19ZM464.21,241.68L471.29,241.68L466.38,250.35L459.51,250.35ZM499.60,241.68L506.68,241.68L500.73,250.35L493.86,250.35ZM520.49,258.87L527.12,258.87L518.04,267.19L511.67,267.19ZM527.12,258.87L533.76,258.87L524.40,267.19L518.04,267.19ZM518.04,267.19L524.40,267.19L514.26,275.25L508.20,275.25Z"/>
<path fill="#561a5e" stroke="#561a5e" stroke-width="0.35" d="M122.53,153.63L130.29,153.63L129.90,162.44L122.12,162.44ZM297.39,36.48L302.43,36.48L302.24,43.35L296.81,43.35ZM244.52,66.51L250.88,66.51L248.58,74.83L241.95,74.83ZM67.83,241.68L74.91,241.68L81.69,250.35L74.82,250.35ZM356.47,250.35L363.34,250.35L361.32,258.87L354.69,258.87ZM386.35,241.68L393.43,241.68L390.82,250.35L383.95,250.35ZM397.69,250.35L404.56,250.35L401.11,258.87L394.48,258.87ZM414.38,258.87L421.01,258.87L416.26,267.19L409.90,267.19ZM447.54,258.87L454.17,258.87L448.07,267.19L441.71,267.19ZM466.38,250.35L473.25,250.35L467.43,258.87L460.80,258.87Z"/>
<path fill="#2f0e39" stroke="#2f0e39" stroke-width="0.35" d="M292.35,36.48L297.39,36.48L296.81,43.35L291.39,43.35ZM259.45,58.45L265.51,58.45L263.61,66.51L257.24,66.51ZM241.95,74.83L248.58,74.83L246.56,83.35L239.69,83.35ZM246.56,83.35L253.43,83.35L251.86,92.02L244.79,92.02ZM228.68,258.87L235.31,258.87L238.16,267.19L231.80,267.19ZM241.95,258.87L248.58,258.87L250.88,267.19L244.52,267.19ZM255.21,258.87L261.84,258.87L263.61,267.19L257.24,267.19ZM60.30,215.31L67.83,215.31L71.56,224.13L64.15,224.13ZM102.30,250.35L109.17,250.35L115.94,258.87L109.30,258.87ZM116.04,250.35L122.91,250.35L129.20,258.87L122.57,258.87ZM69.51,258.87L76.14,258.87L85.50,267.19L79.14,267.19ZM129.20,258.87L135.83,258.87L142.75,267.19L136.39,267.19ZM360.52,224.13L367.93,224.13L366.66,232.93L359.40,232.93ZM322.65,241.68L329.72,241.68L328.99,250.35L322.12,250.35ZM358.04,241.68L365.11,241.68L363.34,250.35L356.47,250.35ZM377.08,250.35L383.95,250.35L381.22,258.87L374.59,258.87ZM354.69,258.87L361.32,258.87L359.02,267.19L352.66,267.19ZM446.52,232.93L453.78,232.93L450.05,241.68L442.98,241.68ZM411.43,250.35L418.30,250.35L414.38,258.87L407.75,258.87ZM418.30,250.35L425.17,250.35L421.01,258.87L414.38,258.87ZM401.11,258.87L407.75,258.87L403.54,267.19L397.18,267.19ZM407.75,258.87L414.38,258.87L409.90,267.19L403.54,267.19ZM454.17,258.87L460.80,258.87L454.43,267.19L448.07,267.19ZM492.52,241.68L499.60,241.68L493.86,250.35L486.99,250.35ZM459.51,250.35L466.38,250.35L460.80,258.87L454.17,258.87ZM500.73,250.35L507.60,250.35L500.60,258.87L493.96,258.87ZM507.23,258.87L513.86,258.87L505.31,267.19L498.95,267.19ZM513.86,258.87L520.49,258.87L511.67,267.19L505.31,267.19ZM79.14,267.19L85.50,267.19L95.64,275.25L89.57,275.25ZM91.86,267.19L98.23,267.19L107.77,275.25L101.70,275.25ZM474.07,258.87L480.70,258.87L473.51,267.19L467.15,267.19ZM480.70,258.87L487.33,258.87L479.87,267.19L473.51,267.19Z"/>
<path d="M107.39,53.60 L109.36,53.19 L111.32,52.78 L113.28,52.37 L116.52,51.61 L116.20,50.24 L115.47,49.83 L114.75,49.42 L116.62,48.59 L118.33,48.25 L120.04,47.90 L121.74,47.56 L124.92,46.53 L127.23,46.09 L128.92,45.75 L130.60,45.41 L132.27,45.07 L133.39,45.36 L134.52,45.65 L135.49,45.94 L136.47,46.23 L137.52,46.28 L138.56,46.33 L139.61,46.38 L140.71,46.53 L141.82,46.67 L142.93,46.82 L143.85,46.97 L144.78,47.11 L145.72,47.26 L146.65,47.41 L147.59,47.56 L148.53,47.70 L149.29,48.00 L150.06,48.30 L150.84,48.59 L152.27,48.35 L153.69,48.10 L155.11,47.85 L156.67,47.48 L158.22,47.11 L159.71,47.04 L161.19,46.97 L162.72,46.87 L164.25,46.77 L165.78,46.67 L166.04,47.85 L167.06,48.05 L168.09,48.25 L169.13,48.45 L170.05,48.89 L170.98,49.34 L171.93,49.79 L172.89,50.24 L174.51,49.99 L176.12,49.74 L177.73,49.49 L179.02,49.34 L180.30,49.19 L181.58,49.04 L182.58,49.49 L183.60,49.94 L184.83,49.90 L186.07,49.87 L187.30,49.83 L188.54,49.79 L189.58,50.04 L190.63,50.29 L191.68,50.55 L194.40,49.34 L194.43,50.70 L196.34,49.99 L198.24,49.29 L200.13,48.59 L200.60,47.11 L201.11,45.65 L201.66,44.21 L202.18,45.29 L202.74,46.38 L203.48,47.04 L204.23,47.70 L204.20,49.19 L205.35,49.57 L206.50,49.94 L209.07,47.26 L210.23,47.46 L211.40,47.65 L212.57,47.85 L211.36,50.70 L209.41,51.68 L207.45,52.68 L206.03,52.45 L204.62,52.22 L202.79,53.99 L200.95,55.77 L199.24,56.24 L197.51,56.71 L195.78,57.18 L193.59,58.34 L191.40,59.50 L189.18,60.68 L187.84,62.52 L186.52,64.39 L187.10,65.61 L187.70,66.84 L188.92,67.28 L190.14,67.72 L191.37,68.16 L192.48,68.82 L193.60,69.48 L194.73,70.15 L196.44,70.23 L198.14,70.31 L197.23,72.15 L196.34,73.99 L197.36,76.52 L198.46,77.03 L200.56,74.83 L200.98,72.90 L201.43,70.98 L204.20,70.15 L206.64,68.16 L206.55,66.51 L206.49,64.88 L208.60,62.44 L209.36,60.04 L210.33,58.60 L211.46,59.03 L212.60,59.45 L213.74,59.88 L214.85,60.09 L215.96,60.30 L217.07,60.52 L218.66,61.48 L218.14,63.25 L218.12,64.55 L219.44,65.20 L222.05,64.23 L223.61,62.77 L224.94,61.80 L225.26,64.06 L226.05,65.69 L226.49,67.33 L226.96,69.32 L228.25,70.64 L229.58,72.31 L231.14,73.49 L230.65,75.68 L228.04,76.69 L226.47,77.37 L224.90,78.05 L223.32,78.73 L221.63,78.73 L219.95,78.73 L218.35,78.79 L216.76,78.85 L215.16,78.90 L213.30,80.27 L210.76,81.64 L208.37,83.35 L206.70,84.56 L209.05,83.35 L211.32,81.98 L212.90,81.38 L214.48,80.78 L217.18,80.44 L216.73,82.15 L215.13,82.84 L215.53,84.56 L216.30,85.60 L218.17,86.29 L219.51,86.46 L220.67,84.90 L221.57,84.22 L222.02,85.94 L220.00,87.15 L218.07,87.76 L216.14,88.36 L213.19,89.75 L212.33,90.28 L212.31,88.54 L215.07,87.32 L213.03,87.15 L211.36,88.02 L208.98,88.89 L206.25,89.93 L204.98,91.67 L205.58,92.89 L204.65,93.59 L203.12,93.94 L201.58,94.28 L199.11,95.33 L197.88,97.43 L196.90,98.31 L195.86,99.89 L194.55,101.47 L194.26,102.53 L194.24,104.81 L192.35,105.87 L191.28,106.05 L189.98,107.10 L188.37,107.63 L186.64,109.22 L184.85,110.45 L183.69,112.22 L183.41,113.45 L183.67,115.74 L183.92,117.50 L184.29,119.62 L183.42,122.09 L182.46,122.44 L181.45,121.20 L181.00,119.44 L180.58,117.68 L180.82,115.74 L179.52,114.16 L178.62,114.16 L177.35,114.51 L175.80,113.45 L173.60,113.27 L171.32,113.45 L171.45,114.16 L170.97,115.57 L169.40,115.21 L167.28,114.68 L164.63,114.51 L162.96,115.21 L160.86,116.45 L158.73,117.86 L158.08,120.15 L158.02,121.20 L156.80,123.67 L156.20,126.32 L156.45,128.61 L156.75,130.72 L157.55,132.66 L158.58,134.07 L160.01,134.77 L162.38,134.25 L164.25,134.07 L166.14,132.48 L166.84,130.72 L167.31,129.49 L169.95,129.14 L172.11,128.96 L171.57,130.72 L171.04,132.48 L170.05,134.25 L169.52,136.01 L168.59,138.65 L170.09,139.00 L172.57,138.83 L174.86,139.00 L176.56,140.41 L176.01,143.06 L175.49,145.70 L175.36,147.46 L176.33,149.23 L177.50,150.46 L178.55,150.99 L180.92,150.28 L182.48,150.11 L184.28,151.16 L185.49,151.87 L187.12,150.28 L187.83,148.70 L189.14,147.46 L191.18,146.94 L193.09,146.23 L194.09,145.00 L194.64,146.05 L193.78,147.46 L196.31,146.58 L196.68,145.70 L197.08,146.76 L199.31,148.35 L201.95,148.17 L204.24,148.87 L206.60,148.17 L208.93,147.99 L208.10,149.23 L209.62,149.75 L211.55,151.87 L213.82,153.63 L214.55,154.87 L216.38,156.28 L218.71,156.45 L221.03,156.80 L223.33,158.04 L224.85,159.80 L226.06,162.44 L227.13,164.21 L227.11,165.97 L227.89,167.20 L229.45,167.73 L231.01,168.08 L233.35,168.61 L235.07,169.49 L236.02,171.26 L237.81,171.52 L239.60,171.78 L241.16,171.96 L242.72,172.14 L245.07,173.37 L247.11,175.13 L249.76,175.84 L250.91,179.19 L250.65,181.83 L249.16,184.47 L247.23,187.12 L245.46,189.76 L245.15,191.52 L244.84,193.29 L244.80,195.49 L244.76,197.69 L244.40,199.45 L244.04,201.22 L242.67,203.86 L242.47,205.62 L241.07,207.38 L238.79,207.38 L237.31,207.91 L234.67,209.15 L232.29,211.44 L231.59,213.55 L231.77,216.55 L230.56,218.84 L229.42,221.48 L227.66,223.60 L226.26,225.89 L224.87,228.00 L222.44,228.36 L219.95,227.65 L218.90,226.77 L220.86,228.53 L222.19,230.82 L222.00,232.05 L221.51,233.81 L220.15,234.86 L218.19,235.13 L216.23,235.39 L215.40,236.09 L215.94,238.19 L213.89,239.07 L212.27,239.42 L212.68,240.81 L214.91,241.68 L214.04,242.55 L213.30,244.29 L212.17,246.03 L211.20,247.76 L212.88,249.48 L214.70,251.21 L212.98,252.92 L211.99,254.97 L212.73,257.18 L214.08,258.53 L212.32,259.37 L211.55,261.22 L209.16,259.71 L206.80,258.87 L205.01,256.33 L203.21,254.63 L201.89,252.06 L200.89,249.48 L200.94,247.76 L201.70,246.03 L201.49,243.42 L200.18,240.81 L199.69,239.07 L199.21,237.32 L198.72,234.69 L198.28,232.05 L198.55,230.29 L199.07,227.65 L198.90,225.01 L198.59,223.25 L198.29,221.48 L198.02,219.72 L197.76,217.96 L197.90,216.20 L198.07,214.43 L198.10,212.67 L198.16,210.91 L198.01,209.15 L197.87,207.38 L197.83,205.62 L197.79,203.86 L197.53,202.10 L197.27,200.34 L196.99,199.10 L195.16,197.69 L192.68,195.93 L191.06,195.05 L189.44,194.17 L187.20,191.52 L186.36,189.76 L185.54,188.00 L184.65,186.24 L183.77,184.47 L182.82,182.71 L181.88,180.95 L179.90,178.31 L178.74,176.54 L178.52,174.43 L180.17,172.14 L180.46,170.73 L179.02,168.61 L180.41,165.97 L182.15,164.21 L183.11,162.44 L184.57,159.80 L184.54,158.04 L184.53,156.28 L184.16,153.63 L183.13,152.40 L180.44,153.63 L180.01,152.75 L178.01,152.40 L176.18,151.87 L173.64,150.11 L172.15,149.23 L172.26,147.46 L170.72,145.35 L169.60,143.94 L167.81,143.23 L166.31,142.79 L164.81,142.35 L162.60,141.30 L160.50,139.36 L159.09,138.30 L156.37,139.18 L154.90,138.56 L153.44,137.95 L151.28,136.89 L148.87,135.48 L146.23,134.60 L144.94,133.01 L143.71,131.07 L144.35,128.96 L143.67,126.67 L141.83,124.20 L140.03,121.91 L139.64,119.62 L138.32,117.68 L137.05,115.74 L136.34,113.10 L135.72,111.33 L134.41,110.81 L133.97,112.57 L134.31,114.86 L135.36,117.50 L136.65,120.15 L137.00,121.91 L137.39,123.67 L138.40,126.32 L137.76,126.49 L137.14,124.91 L135.42,123.67 L135.34,121.91 L133.71,119.79 L132.66,118.03 L131.90,117.50 L133.30,115.74 L131.88,113.98 L131.73,111.69 L131.43,109.57 L131.04,107.81 L130.35,106.93 L128.85,106.22 L127.67,105.87 L127.37,104.11 L127.25,102.35 L127.32,100.24 L126.89,99.01 L126.88,97.26 L126.83,95.68 L128.30,93.76 L129.20,91.15 L130.57,89.41 L131.94,87.67 L133.30,85.42 L134.04,83.35 L134.62,81.81 L136.61,82.32 L137.48,80.78 L136.82,79.93 L135.89,78.73 L135.03,78.05 L134.18,77.37 L135.04,75.34 L134.53,73.15 L134.73,71.48 L135.37,69.81 L134.90,68.16 L134.74,66.51 L135.07,65.20 L134.12,64.88 L133.18,64.55 L132.40,64.06 L131.62,63.58 L130.55,63.09 L129.48,62.61 L128.10,62.44 L126.71,62.28 L125.50,61.96 L124.29,61.64 L122.62,62.04 L120.95,62.44 L118.95,62.85 L116.96,63.25 L114.80,63.74 L117.49,61.64 L120.59,60.52 L118.73,61.08 L116.87,61.64 L112.83,63.25 L110.17,64.88 L108.02,65.69 L105.86,66.51 L103.70,67.33 L101.53,68.16 L99.45,68.90 L97.36,69.65 L95.54,70.15 L93.71,70.64 L91.86,70.98 L90.01,71.31 L93.42,70.31 L95.62,69.65 L97.81,68.98 L99.87,68.27 L101.92,67.55 L103.97,66.84 L106.82,64.71 L105.05,64.39 L103.38,64.47 L101.72,64.55 L102.91,62.77 L101.84,62.20 L100.78,61.64 L101.52,60.04 L104.74,58.45 L106.75,57.34 L108.65,57.03 L110.55,56.71 L113.77,55.30 L112.57,55.23 L111.36,55.15 L110.04,55.25 L108.71,55.36 L107.39,55.46 L108.03,54.53Z M250.27,62.77 L248.89,62.04 L247.52,61.32 L246.51,60.68 L245.52,60.04 L244.46,57.97 L243.17,55.77 L242.83,53.75 L242.60,51.61 L244.18,49.64 L245.81,48.82 L247.42,48.00 L246.22,46.97 L245.35,46.45 L244.49,45.94 L243.98,44.78 L244.75,43.35 L244.55,41.79 L243.90,40.26 L243.30,39.57 L242.72,38.89 L241.84,38.66 L240.97,38.43 L240.11,38.21 L238.84,38.30 L237.57,38.39 L236.29,38.48 L235.27,38.14 L234.27,37.80 L233.81,37.14 L233.37,36.48 L232.81,35.44 L234.62,34.56 L235.96,34.31 L237.29,34.06 L238.61,33.82 L239.93,33.58 L241.64,32.75 L242.91,32.54 L244.16,32.34 L245.41,32.14 L246.65,31.94 L247.86,31.77 L249.06,31.61 L250.26,31.44 L251.45,31.28 L252.42,31.25 L253.38,31.21 L254.34,31.18 L255.30,31.15 L256.26,31.12 L257.22,31.09 L258.18,31.06 L259.19,30.95 L260.20,30.85 L261.20,30.74 L262.20,30.63 L263.20,30.53 L264.20,30.42 L265.19,30.32 L266.18,30.22 L267.16,30.12 L268.15,30.01 L269.13,29.91 L270.10,29.81 L271.06,29.75 L272.01,29.68 L272.96,29.61 L273.91,29.55 L274.85,29.48 L275.80,29.42 L276.69,29.46 L277.58,29.50 L278.47,29.54 L279.37,29.58 L280.26,29.63 L281.16,29.67 L282.06,29.71 L282.90,29.91 L283.75,30.12 L284.61,30.32 L285.47,30.53 L286.34,30.70 L287.23,30.88 L288.11,31.06 L289.00,31.24 L289.90,31.42 L290.80,31.61 L291.93,31.89 L293.06,32.17 L291.94,32.46 L290.80,32.75 L289.66,33.04 L288.51,33.34 L287.39,33.94 L286.26,34.56 L286.45,35.83 L286.15,37.14 L284.82,38.48 L285.56,39.85 L284.36,40.54 L283.16,41.23 L281.18,42.92 L281.00,44.78 L279.93,46.23 L278.48,46.53 L277.02,46.82 L276.09,48.45 L274.69,48.79 L273.28,49.14 L271.86,49.49 L270.47,49.74 L269.07,49.99 L267.66,50.24 L266.23,51.23 L264.79,52.22 L263.50,52.68 L262.19,53.14 L260.88,53.60 L259.43,53.91 L257.98,54.22 L256.19,56.08 L253.62,58.45 L252.24,60.84 L251.29,62.28Z M296.77,103.41 L295.91,102.53 L294.91,101.65 L294.19,101.30 L293.31,101.65 L291.85,101.65 L292.20,99.89 L291.23,98.66 L291.57,97.26 L292.50,95.51 L292.30,93.24 L291.81,91.32 L292.97,90.62 L294.13,89.75 L295.67,90.01 L297.21,90.28 L298.61,90.36 L300.02,90.45 L302.41,90.45 L302.99,89.41 L303.28,86.81 L303.29,85.60 L301.92,84.22 L301.10,83.35 L299.19,82.84 L298.39,81.81 L299.50,81.29 L300.86,81.12 L302.90,81.47 L302.38,79.58 L303.32,80.27 L304.95,80.10 L305.63,79.24 L307.11,78.73 L307.63,77.37 L308.97,76.86 L310.02,76.18 L311.05,74.83 L311.41,73.66 L312.85,73.15 L314.81,72.98 L316.36,72.48 L316.44,71.48 L315.69,69.81 L315.35,68.16 L315.93,67.17 L317.17,66.68 L318.41,66.18 L318.34,67.00 L318.94,68.16 L318.10,68.98 L317.52,69.98 L317.84,70.98 L319.19,71.64 L320.02,72.31 L321.28,71.64 L322.62,71.98 L323.71,72.48 L325.89,71.98 L327.77,71.31 L328.91,70.98 L329.51,71.64 L330.80,71.48 L331.60,70.64 L332.22,69.48 L331.90,68.16 L332.37,67.00 L332.66,66.35 L334.34,67.33 L335.87,67.33 L335.85,65.69 L334.73,65.04 L334.39,63.74 L335.93,63.25 L338.05,63.25 L339.93,63.25 L341.66,62.61 L340.94,62.12 L338.98,61.64 L337.77,61.80 L336.56,61.96 L335.37,62.20 L334.17,62.44 L332.60,61.96 L331.43,60.84 L330.73,58.76 L331.43,57.18 L333.03,56.08 L334.82,54.84 L334.83,53.75 L333.33,53.29 L332.11,53.68 L330.89,54.06 L330.18,55.46 L328.37,56.87 L326.73,57.97 L326.17,59.24 L326.13,60.84 L326.98,61.64 L328.37,62.77 L327.54,64.06 L326.13,64.88 L326.07,66.51 L325.87,68.16 L325.30,68.82 L323.88,68.82 L323.35,69.98 L321.79,69.98 L321.16,68.65 L320.28,67.33 L319.93,66.18 L319.07,64.88 L318.74,63.90 L318.07,63.25 L317.25,64.06 L315.80,65.04 L314.45,65.69 L313.44,65.69 L312.14,64.88 L311.58,63.58 L311.28,62.12 L310.98,60.84 L311.17,59.24 L312.59,58.29 L314.58,57.18 L316.33,56.40 L317.43,55.30 L319.30,53.75 L320.31,52.22 L321.64,50.70 L322.65,49.64 L323.67,48.74 L325.23,47.85 L326.82,47.26 L328.44,46.97 L329.97,46.23 L331.02,45.94 L332.06,45.65 L333.43,45.36 L335.38,45.65 L336.57,45.94 L337.76,46.23 L339.63,46.97 L341.48,47.56 L342.67,47.78 L343.86,48.00 L345.06,48.22 L346.26,48.45 L347.74,48.97 L349.22,49.49 L351.42,50.24 L352.76,51.45 L352.19,52.52 L351.10,52.75 L350.00,52.98 L348.79,52.83 L347.57,52.68 L346.31,52.37 L345.06,52.06 L343.23,51.76 L344.15,52.98 L346.11,54.53 L348.35,55.30 L349.75,54.84 L351.91,55.30 L352.26,54.53 L352.60,53.75 L353.59,53.21 L354.58,52.68 L356.16,52.22 L355.83,50.70 L355.21,49.64 L356.26,49.42 L357.31,49.19 L359.51,50.39 L361.05,49.94 L362.06,49.64 L363.07,49.34 L364.43,49.19 L365.78,49.04 L367.13,49.49 L368.55,48.89 L369.76,49.04 L370.98,49.19 L372.37,48.59 L373.03,47.70 L374.56,48.45 L375.85,47.70 L377.45,47.56 L379.65,48.45 L381.79,49.19 L382.48,48.45 L379.90,46.97 L379.52,45.80 L380.42,44.78 L379.79,43.35 L380.38,42.64 L381.69,42.22 L384.42,44.06 L385.69,46.23 L387.39,48.07 L389.09,49.94 L389.33,52.22 L390.36,51.99 L391.38,51.76 L390.81,49.94 L389.31,48.07 L387.80,46.23 L388.44,44.78 L389.44,44.28 L390.43,43.78 L391.63,43.92 L392.83,44.06 L391.12,41.93 L392.28,41.72 L393.43,41.51 L395.00,41.89 L396.58,42.26 L398.16,42.64 L397.23,41.23 L396.65,39.85 L397.62,39.50 L398.58,39.16 L399.44,38.99 L400.30,38.82 L401.15,38.65 L402.00,38.48 L402.95,38.25 L403.89,38.03 L404.83,37.80 L405.76,37.58 L406.68,37.36 L407.60,37.14 L408.33,36.83 L409.05,36.52 L409.76,36.22 L411.47,36.67 L413.19,37.14 L414.90,37.47 L416.61,37.80 L417.64,37.80 L418.66,37.80 L419.68,37.80 L423.02,39.16 L424.55,41.23 L426.30,41.58 L428.05,41.93 L429.17,41.98 L430.30,42.03 L431.43,42.07 L432.85,42.36 L434.26,42.64 L435.63,42.87 L437.00,43.11 L438.37,43.35 L439.11,42.64 L440.91,42.99 L442.71,43.35 L444.68,44.06 L446.66,44.78 L448.20,45.14 L449.75,45.51 L450.51,44.78 L451.79,44.93 L453.07,45.07 L454.17,44.85 L455.26,44.64 L456.82,44.78 L458.39,44.93 L458.09,43.49 L459.03,43.38 L459.96,43.28 L460.89,43.17 L461.82,43.06 L463.43,43.30 L465.04,43.54 L466.65,43.78 L468.46,44.28 L470.28,44.78 L472.96,45.51 L474.14,45.55 L475.31,45.60 L476.49,45.65 L477.59,45.65 L478.70,45.65 L479.81,45.65 L481.66,46.16 L483.52,46.67 L485.91,47.56 L487.04,47.56 L488.16,47.56 L489.21,47.51 L490.27,47.46 L491.32,47.41 L492.61,47.33 L493.90,47.26 L494.69,47.04 L495.47,46.82 L497.04,47.11 L498.61,47.41 L499.90,47.33 L501.19,47.26 L502.77,47.56 L504.36,47.85 L505.96,48.15 L507.55,48.45 L509.16,48.74 L511.71,50.39 L514.23,52.06 L516.72,53.75 L516.51,54.84 L516.20,55.46 L521.06,57.66 L523.19,58.76 L522.27,59.13 L521.35,59.50 L520.42,59.88 L519.76,60.46 L519.08,61.05 L518.40,61.64 L517.66,62.04 L516.93,62.44 L515.61,62.55 L514.29,62.66 L512.97,62.77 L511.70,63.01 L510.43,63.25 L510.61,64.47 L510.75,65.69 L513.23,67.33 L514.41,68.98 L515.28,70.64 L514.66,72.31 L514.76,73.99 L514.66,75.68 L515.16,77.37 L513.07,75.68 L510.11,73.15 L507.22,70.64 L505.03,68.16 L503.89,66.02 L504.77,64.88 L505.11,64.06 L505.43,63.25 L504.44,60.84 L503.85,61.37 L503.24,61.91 L502.63,62.44 L501.70,62.71 L500.76,62.98 L499.81,63.25 L498.70,63.37 L497.58,63.49 L496.47,63.62 L495.35,63.74 L493.92,63.58 L492.49,63.41 L491.07,63.25 L489.99,63.41 L488.91,63.58 L487.83,63.74 L486.44,63.90 L485.03,64.06 L484.60,64.88 L484.15,65.69 L483.48,66.51 L482.78,67.33 L482.06,68.16 L482.39,70.64 L484.43,71.48 L486.26,72.06 L488.09,72.65 L489.76,72.31 L491.48,73.66 L493.09,75.68 L494.25,78.22 L495.82,80.78 L495.72,82.49 L495.84,84.22 L495.52,86.81 L495.12,89.41 L493.92,90.28 L492.70,91.15 L490.90,91.67 L489.98,92.02 L489.58,93.76 L490.27,95.51 L488.35,96.73 L488.79,98.14 L490.85,99.36 L493.26,101.65 L494.47,104.29 L494.19,104.99 L493.03,105.70 L492.08,105.87 L491.05,106.22 L490.31,105.17 L489.83,103.41 L489.33,101.65 L488.03,100.42 L485.87,99.54 L485.65,98.49 L485.18,97.26 L483.38,96.56 L481.60,96.73 L479.87,98.49 L480.13,96.38 L478.55,94.98 L477.39,95.51 L476.49,96.56 L475.65,97.79 L474.66,98.14 L475.37,99.36 L477.21,100.24 L477.97,101.30 L479.92,100.77 L481.13,100.24 L482.90,100.94 L482.86,101.82 L481.34,102.35 L480.77,103.41 L480.03,105.17 L481.85,106.40 L483.62,108.69 L485.61,110.45 L486.54,112.22 L486.09,113.10 L487.58,113.98 L487.40,115.74 L487.02,117.50 L486.30,119.27 L485.70,121.03 L485.21,122.79 L484.19,123.67 L482.70,125.26 L481.84,126.32 L479.99,127.02 L478.57,127.55 L476.44,128.43 L474.24,128.96 L473.37,131.07 L472.35,129.49 L470.40,128.78 L468.28,129.84 L467.34,131.60 L466.70,133.36 L468.19,135.13 L469.68,136.89 L471.63,138.65 L472.79,140.41 L473.73,143.06 L473.86,145.70 L472.94,147.46 L471.15,148.35 L470.04,149.93 L467.53,151.69 L467.42,150.11 L466.68,148.52 L464.42,147.46 L463.65,145.70 L461.83,144.47 L460.62,143.23 L459.52,143.06 L459.39,144.82 L458.85,147.46 L458.52,149.23 L459.73,150.99 L460.62,152.75 L461.18,154.51 L462.62,155.39 L463.94,156.80 L465.73,158.92 L465.82,161.56 L466.64,163.33 L467.13,164.38 L466.05,164.56 L464.46,163.33 L462.56,161.92 L461.58,160.15 L461.03,158.04 L460.45,155.39 L459.11,153.63 L457.46,151.87 L457.62,149.58 L457.69,146.58 L457.38,144.82 L456.34,142.18 L455.27,139.53 L454.74,137.77 L452.63,138.12 L451.47,138.65 L450.08,138.65 L450.05,136.01 L449.13,133.72 L447.16,131.60 L445.46,129.31 L444.25,127.20 L442.65,126.67 L441.81,128.25 L440.36,128.78 L438.53,128.78 L437.80,130.19 L437.06,131.60 L434.92,132.84 L433.78,134.77 L432.86,136.01 L431.48,137.42 L429.88,138.30 L428.47,139.53 L428.72,142.18 L429.02,143.94 L428.54,145.70 L428.52,147.82 L427.82,148.87 L427.29,150.46 L426.12,151.87 L425.22,152.57 L423.77,151.52 L423.03,149.23 L422.12,146.94 L420.74,144.82 L419.77,142.18 L418.61,139.53 L417.59,136.89 L416.70,134.25 L416.15,131.96 L415.92,129.84 L415.58,128.08 L414.09,129.84 L413.06,130.19 L411.40,128.96 L410.17,127.37 L411.61,126.67 L409.90,126.32 L408.86,125.26 L407.41,124.55 L406.03,123.14 L403.34,122.26 L401.84,122.35 L400.34,122.44 L398.07,122.44 L395.75,122.09 L393.48,122.09 L391.59,121.38 L390.97,119.97 L389.82,119.27 L388.66,119.62 L387.21,120.15 L385.60,119.27 L383.97,118.21 L382.01,116.98 L380.76,115.39 L379.38,113.98 L377.81,113.45 L377.16,114.16 L376.52,115.04 L377.59,116.45 L378.68,118.03 L380.06,119.62 L380.78,120.68 L381.51,121.91 L382.52,121.38 L382.76,120.85 L383.06,122.26 L383.05,123.67 L384.61,124.20 L386.89,124.20 L388.00,123.14 L389.08,121.91 L389.69,120.68 L390.10,120.32 L390.29,121.91 L390.88,123.14 L392.23,124.55 L393.82,125.26 L395.82,127.02 L395.70,128.96 L394.78,130.72 L393.36,131.96 L392.73,133.54 L391.63,135.13 L390.17,136.01 L389.16,136.89 L387.19,137.24 L385.44,138.65 L384.28,139.71 L382.03,140.77 L379.80,142.18 L378.30,143.06 L376.01,143.59 L374.49,144.29 L372.96,144.47 L372.19,144.64 L371.66,143.06 L371.27,141.30 L370.71,139.53 L370.62,137.77 L369.90,136.01 L368.57,134.25 L367.70,132.48 L366.52,130.72 L364.74,128.96 L364.32,127.20 L363.45,125.43 L361.97,123.67 L360.93,121.91 L359.74,120.15 L358.55,118.39 L357.53,116.98 L357.19,114.86 L356.90,116.62 L356.67,117.50 L356.40,117.86 L355.24,116.62 L353.90,114.86 L353.52,113.98 L353.97,115.74 L355.02,117.50 L356.05,119.27 L356.94,121.03 L357.82,122.79 L358.84,124.55 L359.40,126.32 L361.03,128.08 L361.73,129.84 L361.83,131.60 L362.24,133.36 L364.02,135.13 L364.88,136.89 L365.59,138.65 L366.60,140.41 L368.18,141.30 L369.50,143.06 L371.43,144.82 L371.80,146.41 L372.27,146.58 L373.07,147.46 L373.88,148.35 L375.89,148.35 L378.49,147.46 L380.80,147.11 L383.12,146.94 L384.16,146.05 L384.07,147.46 L383.67,149.23 L383.11,150.99 L382.24,152.75 L381.36,154.51 L380.62,156.28 L379.73,158.04 L378.98,159.80 L377.76,161.56 L376.07,163.33 L373.44,165.09 L371.27,166.85 L370.01,168.61 L368.76,170.37 L367.49,172.14 L366.54,173.90 L365.74,175.66 L365.24,177.42 L365.98,179.19 L365.94,180.95 L366.37,182.71 L366.94,184.47 L367.50,186.24 L367.59,188.00 L367.68,189.76 L367.61,191.52 L367.52,193.29 L366.20,195.05 L364.42,196.81 L362.50,198.22 L360.90,199.45 L358.36,201.22 L357.96,202.98 L358.79,204.74 L358.99,206.50 L358.89,208.27 L358.02,210.03 L356.15,210.91 L354.54,212.32 L354.57,214.08 L353.81,216.20 L352.77,217.96 L351.13,219.72 L349.94,221.48 L348.30,223.25 L346.22,225.01 L344.04,226.24 L341.79,226.77 L339.56,226.95 L337.33,227.30 L335.10,227.65 L334.33,228.18 L332.61,227.48 L332.03,227.30 L331.97,225.89 L331.92,224.13 L331.42,222.37 L330.66,219.72 L329.56,217.25 L328.02,214.43 L327.69,212.67 L327.37,210.91 L327.11,209.15 L326.85,207.38 L326.21,205.62 L325.56,203.86 L324.83,202.10 L324.10,200.34 L323.07,197.69 L323.11,195.05 L323.60,193.29 L324.25,190.64 L325.99,188.00 L326.02,185.35 L325.27,182.71 L324.82,180.07 L323.91,177.42 L323.61,175.66 L322.37,173.90 L320.82,172.14 L319.73,170.37 L318.96,168.61 L319.43,166.85 L319.74,165.09 L320.20,163.33 L320.20,161.56 L319.57,159.98 L318.64,159.45 L317.39,158.92 L315.84,159.27 L314.28,159.27 L313.50,158.04 L312.10,156.28 L310.23,155.57 L308.06,155.75 L306.50,156.28 L304.95,157.16 L302.62,158.04 L301.06,158.39 L298.73,157.86 L297.18,157.86 L294.84,158.39 L293.29,159.10 L290.96,158.04 L288.63,156.28 L286.62,154.51 L284.77,153.10 L284.47,151.87 L283.71,150.11 L282.33,148.35 L281.42,147.46 L279.43,145.70 L278.99,143.94 L278.56,142.18 L277.97,140.94 L279.23,139.53 L279.88,137.77 L280.23,136.01 L280.12,134.25 L279.85,132.48 L278.98,130.72 L279.01,129.31 L280.13,127.20 L280.79,125.43 L281.90,123.67 L282.71,121.91 L283.82,120.15 L285.08,118.39 L286.91,117.50 L288.44,116.45 L289.98,114.86 L290.48,113.10 L290.38,111.33 L291.32,109.57 L292.39,108.16 L294.63,107.28 L295.24,106.05 L295.86,104.64 L296.32,103.76 L297.20,103.58 L299.08,104.81 L300.70,104.81 L302.02,104.99 L303.49,104.29 L304.95,103.41 L307.14,102.53 L309.32,102.18 L311.50,101.82 L313.69,102.00 L315.86,101.65 L317.47,101.82 L319.19,101.12 L320.08,101.47 L320.98,102.18 L320.28,102.88 L320.91,104.11 L321.24,105.17 L319.96,106.40 L320.29,107.46 L321.50,108.34 L323.00,108.87 L324.49,109.04 L326.44,109.57 L327.64,109.92 L328.76,111.69 L331.04,112.57 L333.17,113.45 L334.20,113.10 L334.69,111.33 L335.06,110.10 L336.77,109.04 L338.24,108.87 L339.32,109.40 L341.32,110.45 L342.41,111.16 L345.12,111.51 L347.40,112.22 L348.91,112.39 L350.32,111.51 L351.79,111.33 L353.03,111.86 L354.80,111.69 L356.20,110.81 L356.76,109.04 L357.21,107.81 L357.74,106.05 L357.38,104.29 L357.21,102.88 L357.53,102.00 L355.97,102.35 L354.16,103.05 L352.41,103.05 L350.14,102.35 L348.70,102.53 L347.23,102.35 L345.41,101.65 L344.43,100.59 L343.14,99.36 L343.77,98.49 L342.63,97.26 L342.68,96.38 L342.28,95.33 L340.65,94.81 L338.96,94.98 L338.90,95.86 L337.72,95.51 L337.39,96.56 L338.37,97.79 L338.92,99.01 L339.72,99.89 L338.61,100.42 L338.42,101.65 L337.76,102.53 L336.54,101.82 L336.01,100.59 L336.05,99.36 L334.98,98.66 L334.00,97.26 L332.74,95.86 L332.64,94.63 L332.51,93.06 L331.14,92.02 L329.65,91.15 L327.89,90.28 L326.41,89.23 L325.20,88.02 L323.89,87.15 L323.98,86.46 L322.74,86.63 L322.09,87.32 L322.17,88.71 L322.78,89.58 L324.09,90.28 L324.76,91.84 L326.39,92.89 L327.82,93.06 L327.74,93.94 L329.51,94.81 L330.71,95.51 L331.35,96.38 L329.73,95.86 L328.99,95.51 L328.78,96.56 L329.56,97.43 L328.90,98.31 L328.95,99.19 L328.14,100.07 L327.66,99.36 L328.18,98.31 L327.66,97.08 L327.32,96.21 L326.12,95.33 L325.24,94.98 L324.34,94.28 L323.19,94.11 L322.14,93.06 L320.81,92.19 L319.77,91.15 L319.28,89.75 L318.56,89.23 L317.27,88.71 L316.32,89.41 L315.35,89.93 L314.39,90.45 L313.42,90.97 L312.00,90.62 L311.00,90.28 L309.60,90.80 L309.34,92.02 L309.49,92.89 L308.08,93.94 L306.38,94.63 L305.81,95.51 L304.95,96.56 L304.52,97.79 L305.24,98.66 L304.23,99.54 L303.79,100.59 L302.19,101.65 L301.31,102.18 L299.85,102.18 L298.54,102.18 L297.80,102.53Z M100.74,48.74 L101.41,49.04 L102.09,49.34 L102.77,49.64 L103.01,50.24 L103.26,50.85 L103.53,51.45 L104.43,51.84 L105.34,52.22 L106.58,52.83 L104.36,53.75 L101.29,54.53 L99.29,55.46 L97.90,55.30 L96.51,55.15 L95.69,54.68 L94.87,54.22 L94.03,53.99 L93.18,53.75 L95.67,52.06 L98.19,50.39Z M226.00,58.60 L227.27,57.03 L228.03,55.30 L230.60,54.22 L232.75,52.52 L233.91,51.61 L232.76,50.92 L231.63,50.24 L230.65,49.64 L229.68,49.04 L228.48,48.00 L228.83,46.67 L227.29,45.94 L226.29,44.78 L225.44,44.35 L224.60,43.92 L223.33,43.49 L222.08,43.06 L221.11,42.64 L220.16,42.22 L218.59,41.65 L217.38,41.61 L216.18,41.56 L214.98,41.51 L213.55,41.79 L212.13,42.07 L210.77,43.63 L210.69,44.93 L211.66,45.65 L212.99,46.67 L214.47,47.56 L215.77,47.70 L217.07,47.85 L217.98,49.19 L219.09,49.94 L220.28,51.15 L220.17,51.91 L218.38,53.14 L217.56,53.91 L215.06,54.53 L212.74,54.84 L211.93,55.77 L213.17,55.69 L214.41,55.62 L215.92,56.08 L217.83,56.71 L218.78,57.81 L220.37,58.92 L222.05,59.08 L223.73,59.24Z M202.88,44.06 L202.18,43.63 L201.50,43.21 L203.60,41.37 L204.83,41.28 L206.06,41.19 L207.28,41.09 L208.40,41.93 L206.71,42.43 L205.01,42.92Z M197.84,44.78 L196.59,44.64 L195.33,44.49 L194.08,44.35 L194.20,42.92 L195.86,42.36 L197.52,41.79 L198.88,41.51 L200.23,41.23 L200.73,41.79 L201.24,42.36 L200.12,43.63Z M190.63,48.45 L188.95,48.74 L187.26,49.04 L186.07,48.89 L184.88,48.74 L183.70,48.59 L182.47,48.49 L181.25,48.40 L180.02,48.30 L178.66,48.35 L177.29,48.40 L175.92,48.45 L174.95,48.00 L174.00,47.56 L174.28,46.23 L175.91,46.01 L177.53,45.80 L176.37,45.43 L175.22,45.07 L174.44,44.49 L176.58,43.21 L178.18,42.92 L179.77,42.64 L181.35,42.36 L182.65,42.17 L183.94,41.98 L185.23,41.79 L186.31,41.93 L187.40,42.07 L188.50,42.22 L188.95,42.78 L189.43,43.35 L190.33,44.49 L190.74,45.36 L191.19,46.23 L192.07,46.97Z M171.15,44.78 L169.98,44.78 L168.80,44.78 L167.63,44.78 L168.82,43.35 L171.15,41.93 L173.15,40.81 L174.51,40.72 L175.86,40.63 L177.22,40.54 L178.27,40.68 L179.32,40.81 L180.38,40.95 L180.67,41.58 L180.98,42.22 L179.24,42.78 L177.50,43.35 L175.83,43.85 L174.17,44.35 L172.66,44.57Z M193.21,40.40 L192.13,40.42 L191.06,40.44 L189.98,40.46 L188.90,40.48 L187.82,40.50 L186.74,40.52 L185.66,40.54 L184.78,40.40 L183.90,40.26 L183.02,40.12 L182.15,39.98 L183.79,38.75 L185.47,38.27 L187.14,37.80 L188.24,37.75 L189.34,37.70 L190.43,37.64 L191.53,37.59 L192.62,37.54 L193.42,37.70 L194.23,37.87 L195.04,38.04 L195.85,38.21 L196.24,39.16Z M184.53,38.21 L186.42,36.87 L185.34,36.84 L184.27,36.82 L183.19,36.79 L182.12,36.77 L181.05,36.74 L178.75,37.94 L179.71,37.98 L180.67,38.03 L181.64,38.07 L182.60,38.12 L183.56,38.16Z M203.07,39.57 L205.12,38.21 L204.40,37.94 L203.69,37.67 L202.99,37.40 L201.73,37.60 L200.46,37.80 L199.19,38.00 L197.91,38.21 L198.45,38.61 L199.00,39.02 L199.57,39.43 L200.73,39.48 L201.90,39.52Z M206.92,40.40 L208.20,39.16 L207.16,39.16 L206.12,39.16 L205.08,39.16 L204.04,40.12 L205.00,40.21 L205.96,40.31Z M204.13,36.48 L205.77,35.19 L204.90,35.09 L204.04,35.00 L203.18,34.90 L202.32,34.81 L200.78,35.96 L201.61,36.09 L202.45,36.22 L203.29,36.35Z M209.64,36.09 L210.89,35.06 L209.84,35.10 L208.80,35.14 L207.76,35.19 L206.47,36.22 L207.53,36.17 L208.58,36.13Z M220.62,40.40 L219.54,40.42 L218.47,40.44 L217.39,40.47 L216.32,40.49 L215.24,40.51 L214.16,40.54 L213.16,40.48 L212.16,40.43 L211.16,40.37 L210.16,40.32 L209.16,40.26 L208.72,39.16 L208.00,38.70 L207.30,38.25 L206.61,37.80 L207.69,37.75 L208.78,37.70 L209.86,37.64 L210.94,37.59 L212.02,37.54 L212.93,37.64 L213.83,37.75 L214.75,37.86 L215.66,37.96 L216.57,38.07 L217.47,38.21 L218.36,38.34 L219.26,38.48 L220.16,38.61 L221.07,38.75Z M212.83,38.21 L214.02,38.14 L215.20,38.07 L216.39,38.00 L217.57,37.94 L218.75,37.87 L219.92,37.80 L220.85,37.90 L221.78,38.00 L222.71,38.11 L223.64,38.21 L226.06,36.74 L227.49,36.30 L228.91,35.87 L230.32,35.44 L231.50,35.25 L232.67,35.06 L234.01,34.68 L235.35,34.31 L236.67,33.94 L238.28,33.52 L239.88,33.10 L241.13,32.78 L242.37,32.47 L243.60,32.17 L245.19,31.72 L246.76,31.28 L248.17,30.74 L247.48,30.48 L246.79,30.22 L245.91,30.17 L245.03,30.13 L244.15,30.09 L243.28,30.04 L242.40,30.00 L241.52,29.96 L240.65,29.91 L239.70,29.94 L238.76,29.96 L237.81,29.99 L236.86,30.01 L235.92,30.04 L234.97,30.06 L234.02,30.09 L233.06,30.12 L232.07,30.17 L231.08,30.23 L230.09,30.29 L229.09,30.35 L228.10,30.41 L227.10,30.47 L226.09,30.53 L224.90,30.74 L223.70,30.95 L222.49,31.17 L221.28,31.39 L220.06,31.61 L220.53,32.17 L221.02,32.75 L221.53,33.34 L222.04,33.94 L220.36,34.56 L219.95,35.83 L218.46,36.28 L216.95,36.74 L215.58,37.07 L214.21,37.40Z M218.24,35.57 L221.55,33.94 L221.04,33.34 L220.54,32.75 L219.96,32.44 L219.39,32.13 L218.83,31.83 L217.70,31.97 L216.56,32.11 L215.43,32.25 L214.29,32.40 L212.33,33.16 L210.34,33.94 L210.92,34.25 L211.51,34.56 L212.11,34.87 L212.71,35.19 L213.63,35.25 L214.55,35.31 L215.47,35.38 L216.39,35.44 L217.31,35.51Z M221.66,42.36 L221.27,41.51 L219.82,41.65 L218.36,41.79 L218.86,42.50 L220.26,42.43Z M203.33,58.92 L202.55,58.24 L201.79,57.55 L201.04,56.87 L201.16,55.30 L203.42,53.75 L205.72,52.98 L206.64,54.22 L207.63,55.77 L207.26,57.50 L205.30,58.21Z M204.84,58.45 L204.74,57.66 L206.45,57.81Z M193.26,49.34 L192.20,48.59 L194.14,47.41 L195.42,47.56 L196.69,47.70 L196.15,48.74 L194.71,49.04Z M223.53,83.18 L225.77,80.78 L227.53,78.22 L229.18,77.29 L230.83,76.35 L229.39,78.73 L230.48,79.58 L232.26,80.44 L232.59,83.18 L231.63,84.73 L230.52,84.22 L228.09,84.04 L226.57,83.76 L225.05,83.47Z M110.95,66.51 L112.45,65.69 L109.85,66.35 L107.53,67.33 L109.24,66.92Z M175.56,128.25 L178.69,126.49 L181.01,126.14 L183.32,125.96 L185.44,127.20 L186.84,128.25 L188.24,129.31 L189.88,130.28 L191.53,131.25 L189.48,131.78 L187.95,131.78 L186.43,131.78 L185.82,130.37 L183.70,128.96 L182.21,128.69 L180.72,128.43 L180.05,127.73 L178.48,128.08 L176.91,128.43Z M192.66,132.13 L194.07,131.78 L195.58,131.96 L197.09,132.13 L198.96,133.36 L200.09,134.25 L198.36,134.77 L196.82,134.77 L195.29,134.77 L193.07,134.69 L190.86,134.60 L193.83,134.07 L192.79,132.31Z M184.86,134.77 L186.91,134.25 L187.89,135.13 L186.01,135.48Z M201.93,134.25 L204.37,134.42 L203.84,135.13 L201.85,135.13Z M185.98,119.44 L188.75,119.97 L188.36,120.50 L186.04,119.97Z M186.55,122.44 L187.05,124.20 L186.40,124.55 L186.14,123.14Z M297.25,79.07 L299.29,78.56 L300.38,78.05 L302.26,78.05 L303.88,77.71 L305.35,77.71 L306.83,77.20 L306.82,76.69 L306.55,76.02 L307.20,74.83 L306.67,74.16 L305.35,74.16 L305.08,73.15 L304.82,72.15 L303.65,71.31 L302.88,69.98 L301.60,68.98 L301.61,68.49 L302.27,67.33 L302.66,66.18 L300.50,66.35 L301.17,64.71 L299.91,64.71 L298.65,64.71 L297.98,65.86 L297.54,67.33 L297.25,68.16 L297.85,69.32 L297.69,70.15 L298.70,70.98 L300.53,70.81 L300.77,71.81 L301.01,72.65 L300.86,73.49 L299.02,73.49 L298.86,74.33 L298.83,75.51 L298.14,76.18 L299.61,76.35 L300.67,76.69 L299.32,77.03 L298.64,77.71Z M291.85,76.52 L294.02,76.02 L296.44,75.34 L296.91,73.49 L296.82,72.31 L297.65,71.14 L296.90,70.31 L295.48,70.15 L294.17,70.48 L293.57,71.81 L291.86,71.98 L291.52,73.32 L292.09,74.66 L291.11,75.51 L291.59,76.35Z M282.46,57.03 L281.29,56.87 L280.11,56.71 L278.94,56.55 L277.77,56.40 L278.74,55.62 L277.62,55.23 L276.51,54.84 L276.13,53.75 L278.09,52.68 L279.93,52.22 L281.55,52.98 L282.74,52.83 L283.93,52.68 L285.13,52.45 L286.33,52.22 L287.86,52.98 L288.90,54.22 L287.32,55.62 L285.19,56.40 L283.83,56.71Z M321.83,37.67 L320.44,37.07 L319.06,36.48 L317.70,35.83 L316.36,35.19 L315.35,33.70 L316.37,33.65 L317.40,33.60 L318.42,33.55 L319.43,33.50 L320.45,33.46 L321.73,33.76 L323.02,34.06 L324.10,34.43 L325.18,34.81 L326.27,35.19 L327.63,36.48 L326.66,36.61 L325.68,36.74 L324.71,36.87 L323.72,37.00 L322.74,37.14Z M323.06,34.19 L323.65,32.75 L324.69,32.78 L325.73,32.81 L326.77,32.85 L327.81,32.88 L328.85,32.91 L329.89,32.95 L330.93,32.98 L330.10,33.34 L329.25,33.70 L328.40,34.06 L327.33,34.09 L326.26,34.11 L325.19,34.14 L324.13,34.16Z M368.89,46.23 L367.45,45.87 L366.02,45.51 L364.59,45.14 L363.17,44.78 L362.60,42.64 L363.36,41.58 L364.07,40.54 L364.82,39.64 L365.53,38.75 L366.40,38.51 L367.27,38.27 L368.12,38.04 L368.98,37.80 L370.00,37.67 L371.02,37.54 L372.04,37.40 L373.05,37.27 L374.06,37.14 L373.59,37.80 L373.09,38.48 L372.18,38.82 L371.27,39.16 L370.34,39.50 L369.40,39.85 L368.70,40.36 L367.98,40.88 L367.25,41.41 L366.50,41.93 L366.08,44.06 L367.96,45.00 L369.85,45.94Z M404.12,35.57 L402.60,35.15 L401.09,34.75 L399.59,34.34 L398.10,33.94 L395.31,32.17 L396.42,32.28 L397.52,32.40 L398.63,32.51 L399.75,32.63 L400.87,32.75 L402.44,33.19 L404.02,33.64 L405.62,34.09 L407.24,34.56 L406.47,34.81 L405.70,35.06 L404.91,35.31Z M448.43,40.12 L447.34,38.75 L448.77,38.89 L450.20,39.02 L451.63,39.16 L453.80,40.54 L452.45,40.43 L451.11,40.33 L449.76,40.23Z M455.34,39.85 L453.04,38.75 L454.31,38.83 L455.59,38.91 L456.87,38.99 L458.15,39.08 L459.43,39.16 L459.01,39.85 L457.79,39.85 L456.57,39.85Z M353.31,33.34 L351.95,32.75 L350.61,32.17 L351.51,32.11 L352.42,32.04 L353.32,31.98 L354.23,31.92 L355.13,31.85 L356.03,31.79 L356.93,31.73 L357.82,31.67 L358.72,31.61 L359.84,31.83 L360.98,32.06 L362.12,32.28 L363.26,32.51 L364.42,32.75 L363.54,32.84 L362.66,32.94 L361.78,33.04 L360.89,33.14 L360.01,33.24 L359.12,33.34 L358.15,33.34 L357.18,33.34 L356.21,33.34 L355.25,33.34 L354.28,33.34Z M502.25,45.51 L502.58,44.78 L503.42,45.22 L503.60,45.65Z M501.88,85.94 L502.73,84.22 L502.19,81.64 L499.51,79.93 L497.19,77.37 L495.69,75.68 L494.15,73.99 L491.53,71.81 L491.82,73.15 L493.62,75.68 L495.37,77.37 L497.08,79.07 L498.27,80.78 L499.42,82.49 L500.99,85.08Z M504.35,93.94 L503.41,92.89 L502.66,90.62 L502.52,88.71 L502.34,86.81 L505.06,88.54 L506.76,88.97 L508.46,89.41 L510.41,90.62 L508.34,91.32 L508.24,92.89 L506.40,92.45 L504.56,92.02 L505.33,93.24Z M505.52,93.76 L507.45,95.51 L509.55,98.14 L508.93,99.36 L510.14,101.65 L511.14,103.93 L510.27,105.17 L508.98,105.87 L506.63,105.87 L505.73,107.81 L503.63,106.40 L501.19,105.87 L499.59,106.40 L497.97,106.93 L498.03,106.05 L499.74,104.29 L501.49,104.11 L503.24,103.93 L504.02,102.53 L504.31,100.77 L506.07,100.24 L506.52,98.14 L505.16,95.51 L504.99,94.28Z M497.90,107.10 L496.28,108.16 L498.23,110.45 L499.35,112.22 L500.27,111.51 L500.11,109.57 L499.08,107.46Z M500.32,106.58 L501.08,108.69 L503.22,108.16 L503.12,106.58Z M488.91,122.44 L489.57,125.43 L489.02,128.08 L487.62,126.32 L487.98,123.67Z M473.91,131.60 L474.82,132.48 L473.33,134.60 L471.56,134.07 L471.98,131.96Z M429.25,149.58 L431.08,151.87 L432.14,154.51 L430.19,156.28 L429.04,154.69 L428.91,151.87Z M489.83,134.25 L492.31,134.42 L492.88,137.77 L493.39,139.53 L493.88,141.30 L496.43,143.06 L496.78,144.64 L494.64,143.59 L492.50,142.53 L491.00,141.65 L489.27,138.30 L489.82,136.01Z M499.46,149.58 L501.21,151.87 L501.11,153.63 L500.99,155.39 L499.49,156.28 L497.53,154.69 L495.98,154.69 L494.43,154.69 L496.62,152.75 L498.11,151.87 L499.12,150.99Z M497.11,144.82 L499.03,145.35 L499.01,147.29 L498.97,149.23 L497.80,148.35 L496.84,146.58Z M493.69,146.05 L495.61,146.58 L496.33,149.23 L495.68,150.64 L493.92,148.35Z M489.88,146.58 L490.52,148.35 L488.74,150.11 L486.94,151.87 L488.19,150.11 L489.05,148.35Z M486.34,154.51 L489.08,156.28 L490.26,158.04 L488.15,159.45 L487.91,161.56 L489.05,163.33 L490.18,165.09 L488.34,166.85 L487.30,168.61 L486.25,170.37 L485.38,173.37 L483.03,173.90 L480.74,172.67 L478.42,172.14 L476.41,171.96 L476.16,169.49 L474.95,166.85 L474.60,164.21 L476.91,163.33 L478.43,161.92 L480.74,161.03 L482.22,158.92 L484.20,158.04 L485.20,156.28Z M453.06,156.98 L454.79,157.33 L456.51,157.69 L458.47,160.15 L460.86,162.44 L462.93,164.21 L464.50,165.09 L466.07,165.97 L467.46,168.61 L469.58,171.26 L469.84,173.02 L469.61,175.13 L469.36,177.25 L467.37,176.54 L465.11,174.78 L462.86,172.14 L461.97,170.37 L461.07,168.61 L459.06,165.97 L457.77,163.33 L455.06,160.68 L453.60,158.92Z M469.67,177.25 L471.22,177.34 L472.77,177.42 L474.69,177.86 L476.61,178.31 L478.14,178.57 L479.68,178.83 L481.99,179.19 L482.52,180.60 L480.28,181.65 L478.35,181.48 L476.42,181.30 L474.90,180.86 L473.38,180.42 L471.85,180.07 L470.31,179.72 L468.50,178.83Z M482.80,181.13 L484.49,181.30 L483.64,182.36Z M484.96,181.30 L486.50,181.48 L488.04,181.65 L489.57,181.83 L488.74,182.54 L487.19,182.62 L485.63,182.71Z M490.85,181.30 L492.51,181.36 L494.16,181.42 L495.81,181.48 L494.96,182.36 L493.02,182.36 L491.08,182.36Z M489.46,183.24 L492.21,183.77 L491.65,184.83 L489.70,184.12Z M502.32,181.48 L499.64,182.01 L497.49,183.59 L496.44,185.00 L497.91,184.12 L500.38,182.54Z M499.51,164.38 L497.97,165.44 L496.42,165.62 L494.86,165.79 L493.31,165.97 L491.74,165.26 L491.46,166.85 L490.63,169.49 L490.27,171.26 L489.91,173.02 L490.30,174.78 L490.68,176.54 L492.08,176.54 L492.26,174.34 L492.42,172.14 L493.88,174.78 L495.68,176.19 L495.94,173.90 L495.07,172.14 L494.03,170.37 L496.88,168.61 L494.08,168.26 L495.65,167.20 L497.21,166.15 L499.06,165.26Z M504.15,163.33 L505.44,165.09 L504.51,168.26 L503.43,165.97Z M504.11,171.78 L506.28,171.96 L508.45,172.14 L507.95,173.02 L506.17,172.84 L504.39,172.67Z M500.98,172.31 L502.84,172.49 L502.17,173.55Z M508.86,168.44 L511.22,167.55 L513.53,168.61 L513.46,171.26 L515.02,170.99 L516.59,170.73 L518.96,169.49 L520.49,170.20 L522.03,170.90 L524.35,171.43 L525.88,171.96 L527.42,172.49 L529.69,173.90 L531.87,176.54 L534.55,178.31 L534.41,180.07 L535.34,181.83 L536.74,183.33 L538.13,184.83 L536.52,185.35 L534.84,184.47 L533.15,183.59 L530.77,180.95 L528.48,180.42 L526.73,182.71 L525.16,182.89 L523.59,183.06 L522.11,182.27 L520.63,181.48 L519.97,180.07 L519.38,177.42 L517.18,175.31 L515.65,174.78 L514.12,174.25 L512.60,173.37 L511.49,173.90 L510.33,171.78 L508.84,169.49Z M539.59,171.43 L541.23,173.11 L542.86,174.78 L543.22,173.90 L540.67,171.78Z M546.51,178.31 L547.99,179.19 L549.47,180.07 L550.94,180.95 L552.36,182.27 L553.77,183.59 L555.11,185.35 L553.64,184.74 L552.16,184.12 L550.78,182.54 L549.39,180.95 L547.96,179.63Z M525.64,185.71 L524.85,187.12 L523.81,189.23 L523.32,191.52 L522.73,194.17 L521.69,196.46 L520.69,197.69 L519.15,197.69 L517.85,196.46 L516.11,195.05 L513.94,193.29 L514.01,191.88 L514.93,189.76 L516.24,188.00 L515.33,187.82 L513.39,188.53 L510.69,187.82 L509.88,186.76 L508.35,188.00 L506.89,188.53 L505.97,189.76 L504.80,191.52 L504.57,193.11 L502.59,192.93 L500.89,191.88 L499.28,192.40 L497.24,193.64 L494.94,195.58 L493.25,196.46 L492.49,198.22 L491.51,199.45 L490.13,201.22 L487.61,202.45 L485.26,202.80 L483.30,203.51 L480.31,204.92 L478.81,205.62 L478.04,207.38 L477.09,209.15 L477.29,211.79 L476.27,213.55 L476.73,215.31 L477.00,217.08 L476.82,219.72 L477.01,222.37 L476.40,224.13 L475.02,225.89 L474.35,227.30 L475.99,228.36 L477.83,228.53 L480.75,227.48 L482.57,226.60 L484.78,226.60 L487.27,225.89 L488.65,225.01 L491.05,223.78 L493.55,223.07 L495.91,222.72 L498.21,222.54 L500.06,222.37 L501.65,223.25 L503.22,224.13 L503.96,225.89 L504.05,228.00 L505.40,227.30 L508.33,225.01 L508.38,225.89 L507.04,228.53 L507.50,229.41 L508.88,229.59 L508.57,231.70 L508.72,233.11 L509.46,234.16 L511.01,234.51 L512.06,235.21 L514.19,233.98 L515.14,234.86 L515.79,235.74 L517.41,234.69 L519.99,233.46 L522.36,233.11 L523.86,231.17 L526.26,228.53 L528.06,226.42 L530.24,224.66 L532.33,222.37 L533.91,219.72 L535.56,217.08 L535.90,214.43 L536.30,211.79 L535.44,210.03 L534.39,208.27 L534.07,206.50 L532.76,205.62 L532.17,203.51 L530.72,201.74 L529.34,200.34 L528.95,198.57 L529.00,196.81 L528.73,195.05 L528.89,193.29 L527.87,192.05 L526.87,191.52 L526.64,188.88 L526.09,187.12Z M511.70,238.72 L514.16,238.89 L516.84,238.72 L515.10,241.16 L513.49,242.90 L511.46,243.60 L510.46,243.42 L510.64,241.68 L510.93,239.94Z M559.02,227.48 L560.44,229.06 L559.84,231.70 L560.21,232.93 L562.45,233.28 L564.02,233.11 L562.41,235.04 L559.66,236.27 L557.53,238.19 L554.35,240.11 L553.90,239.59 L556.32,237.32 L555.22,236.44 L557.30,234.69 L558.84,232.58 L559.11,230.29 L559.14,228.53Z M552.10,238.19 L553.16,239.07 L552.79,240.29 L549.87,242.21 L548.18,243.95 L545.65,244.29 L543.53,246.03 L541.54,247.59 L538.46,248.80 L536.95,248.45 L536.27,247.24 L539.76,245.16 L541.86,244.29 L543.96,243.42 L547.31,241.68 L549.65,239.94 L550.99,238.72Z M381.20,188.00 L382.16,190.64 L382.44,193.81 L381.50,196.46 L380.53,199.45 L379.86,201.22 L379.20,202.98 L378.54,204.74 L377.87,206.50 L377.28,208.27 L376.68,210.03 L375.31,211.79 L373.08,211.26 L371.29,209.15 L371.11,207.38 L370.93,205.62 L372.48,202.98 L372.80,200.34 L372.69,198.57 L372.56,196.81 L374.21,195.05 L376.57,194.17 L378.52,192.40 L379.55,190.29Z M214.16,259.04 L215.73,260.55 L217.82,261.47 L219.91,262.39 L218.50,263.06 L217.31,263.31 L216.13,263.55 L214.64,263.14 L213.15,262.72 L211.24,261.39 L212.29,260.21Z M224.58,256.67 L225.92,256.67 L227.26,256.67 L227.06,258.02 L225.18,258.36Z M255.14,261.39 L256.51,261.64 L257.88,261.89 L258.33,262.72 L255.92,261.89Z M66.65,131.25 L68.13,132.13 L66.43,133.54 L66.21,132.48Z M280.18,116.62 L281.95,117.50 L281.18,117.86 L279.40,117.33Z M352.22,103.93 L353.91,104.02 L355.60,104.11 L354.19,105.87 L352.56,105.70Z M339.35,104.11 L341.42,104.29 L343.48,104.46 L343.11,105.17 L341.26,104.99 L339.41,104.81Z M322.89,99.36 L324.43,99.42 L325.98,99.48 L327.53,99.54 L326.88,100.77 L326.95,102.18 L325.02,101.47 L323.10,100.77Z M318.07,94.28 L318.94,94.63 L318.87,96.38 L318.79,98.14 L317.21,98.31 L316.68,95.51Z M318.22,91.15 L318.54,92.02 L318.05,93.94 L317.17,93.06Z M39.35,190.66 L40.03,191.17 L39.54,191.69 L38.86,191.17Z M75.31,197.29 L76.08,197.87 L75.55,198.44 L74.78,197.87Z M56.76,243.73 L57.83,244.29 L57.71,244.86 L56.64,244.29Z M578.30,197.53 L578.91,198.22 L577.96,198.91 L577.36,198.22Z M557.65,203.60 L558.65,204.74 L557.07,205.89 L556.07,204.74Z M163.59,167.04 L164.39,167.73 L163.61,168.42 L162.81,167.73Z M393.03,201.99 L393.51,202.45 L392.96,202.91 L392.48,202.45Z M389.69,203.64 L390.11,204.04 L389.62,204.44 L389.20,204.04Z M399.56,252.77 L400.00,253.43 L399.06,254.10 L398.62,253.43Z M563.09,193.36 L563.84,194.17 L562.76,194.97 L562.02,194.17Z M553.06,183.02 L553.65,183.59 L552.93,184.17 L552.34,183.59Z M513.73,153.17 L514.29,153.63 L513.80,154.09 L513.24,153.63Z M528.51,142.83 L529.03,143.23 L528.63,143.63 L528.12,143.23Z M209.90,144.36 L210.40,144.82 L209.85,145.28 L209.35,144.82Z M210.82,142.01 L211.19,142.35 L210.78,142.70 L210.41,142.35Z M210.03,147.77 L210.65,148.35 L209.97,148.92 L209.34,148.35Z M247.80,272.01 L249.44,272.12 L249.14,272.43 L248.06,272.33Z M87.51,72.31 L86.02,72.48 L84.13,73.15 L84.43,73.49 L86.14,72.98Z M82.89,73.82 L80.69,74.16 L80.56,74.66 L82.37,74.33Z M78.40,74.83 L75.66,75.17 L75.71,75.51 L77.92,75.17Z M74.15,75.34 L71.45,75.51 L71.36,75.85 L73.67,75.68Z M70.16,75.85 L68.67,75.93 L67.18,76.02 L67.09,76.35 L69.67,76.18Z M66.43,75.85 L64.91,76.02 L64.55,76.35 L65.93,76.18Z M535.13,75.51 L533.17,74.16 L534.94,74.33 L536.19,75.00Z M222.30,286.90 L224.00,284.00 L226.50,281.50 L229.00,279.00 L232.00,276.50 L234.00,275.20 L237.50,275.80 L238.40,276.70 L236.00,278.50 L233.00,280.50 L231.50,283.00 L233.00,285.00 L236.00,287.00 L238.50,289.00 L239.90,292.00 L238.00,294.50 L237.00,295.70 L241.30,296.40 L253.00,297.80 L264.70,298.60 L270.50,297.80 L276.00,295.20 L281.70,292.70 L291.90,289.80 L296.00,289.20 L298.00,288.30 L300.00,289.00 L302.10,287.60 L310.90,286.90 L320.00,287.00 L328.40,287.60 L336.00,286.30 L343.00,284.70 L348.80,286.90 L354.70,283.20 L363.40,282.50 L367.80,279.90 L370.80,280.80 L379.60,283.20 L384.00,286.90 L385.40,285.40 L390.00,284.50 L397.10,283.20 L408.80,281.80 L416.00,281.20 L424.90,280.30 L432.20,281.80 L438.00,280.30 L446.80,281.40 L455.50,281.80 L465.00,280.30 L471.00,281.50 L480.00,283.50 L487.00,286.00 L492.70,288.40 L479.60,292.60 L471.30,296.20 L459.00,301.50 L457.50,303.50 L463.00,304.00 L453.60,309.30 L155.40,309.30 L175.60,305.90 L168.00,304.20 L161.80,302.70 L165.50,301.30 L157.00,300.20 L149.80,299.50 L143.40,299.00 L142.50,297.60 L145.00,296.50 L148.00,294.90 L152.00,295.30 L157.20,294.90 L161.80,293.50 L166.40,293.50 L170.00,292.60 L172.80,291.20 L176.00,292.30 L180.20,292.10 L185.00,292.60 L190.00,291.50 L194.60,290.50 L200.40,291.30 L210.00,290.80 L219.40,290.50Z M227.00,279.50 L229.50,277.50 L230.50,278.50 L228.00,280.50Z M231.50,275.50 L234.50,274.20 L235.50,275.20 L232.50,276.50Z M236.50,275.00 L239.00,274.50 L239.00,275.70 L236.80,276.20Z M222.50,285.50 L225.00,284.00 L225.50,285.50 L223.50,286.80Z" fill="#d4d4d4" stroke="#000" stroke-width="1.25" stroke-linejoin="round"/>
<path d="M165.01,64.88 L166.69,64.33 L168.37,63.79 L170.04,63.25 L171.67,63.58 L170.21,63.85 L168.75,64.12 L167.28,64.39Z M172.76,68.16 L175.14,65.69 L175.83,66.51Z M173.80,75.68 L173.09,73.15 L172.77,75.17Z M177.62,85.08 L180.61,83.35 L182.64,82.24 L184.66,81.12 L186.95,81.47 L188.61,82.67 L188.12,85.08 L186.82,84.90 L185.51,84.73 L183.29,85.08 L183.21,83.70 L180.75,84.56 L179.19,84.82Z M186.38,85.94 L184.15,86.29 L182.37,88.54 L181.40,90.71 L180.45,92.89 L180.75,93.59 L182.78,92.02 L183.55,89.75 L185.80,87.67Z M188.60,85.60 L190.23,85.85 L191.86,86.11 L193.48,88.02 L191.06,89.58 L188.63,91.15 L188.95,89.58 L188.59,87.67 L187.62,86.29Z M193.51,91.32 L191.93,91.58 L190.35,91.84 L188.76,92.10 L187.18,92.36 L186.74,93.94 L188.65,93.76 L191.65,92.54Z M192.57,90.80 L194.74,90.45 L196.91,90.10 L197.99,89.06 L195.83,89.58 L193.25,90.10Z M174.49,78.22 L175.00,76.35 L175.56,74.50 L176.16,72.65 L173.37,74.83 L173.83,77.71Z M160.87,60.84 L162.45,60.44 L164.02,60.04 L165.59,59.64 L167.15,59.24 L168.94,58.82 L170.71,58.39 L172.48,57.97 L170.40,59.00 L168.31,60.04 L166.57,60.41 L164.82,60.78 L163.06,61.16 L161.97,61.00Z M164.80,54.53 L167.61,52.22 L166.69,51.96 L165.78,51.71 L164.88,51.45 L163.12,51.86 L161.35,52.27 L159.57,52.68 L159.94,54.06 L161.15,54.18 L162.36,54.29 L163.58,54.41Z M326.25,142.53 L327.49,142.88 L327.51,144.12 L326.42,143.76Z M350.38,172.67 L350.97,175.66 L351.64,177.42 L352.32,179.19 L353.34,182.36 L352.58,181.83 L351.84,180.07 L351.09,178.31 L350.80,176.54 L350.51,174.78Z M357.66,183.59 L357.85,185.35 L358.03,187.12 L358.72,189.67 L359.40,192.23 L358.53,190.64 L358.07,188.44 L357.59,186.24Z M443.68,76.52 L444.69,75.26 L445.66,73.99 L445.96,72.48 L446.23,70.98 L446.45,69.48 L446.05,69.81 L446.25,71.48 L446.42,73.15 L445.66,73.99 L444.89,74.83 L444.09,75.68Z M406.88,85.94 L408.45,84.56 L410.12,84.73 L411.80,84.90 L413.48,85.08 L413.97,84.56 L412.70,84.85 L411.43,85.13 L410.15,85.42 L408.96,85.94 L407.76,86.46Z M346.44,94.28 L349.17,94.46 L351.19,93.59 L353.22,92.89 L354.92,92.89 L356.14,93.41 L357.39,94.11 L359.90,94.63 L362.04,94.63 L364.02,93.76 L363.70,92.02 L361.29,90.45 L359.69,89.41 L357.81,88.36 L356.26,87.50 L355.86,86.81 L357.49,85.08 L358.91,83.87 L356.70,84.56 L355.27,85.08 L353.84,85.60 L353.67,86.98 L354.23,87.84 L352.81,88.54 L351.86,88.71 L350.94,87.32 L351.57,86.11 L349.58,85.77 L347.78,84.90 L347.17,85.42 L346.26,86.81 L346.30,88.02 L345.23,89.41 L344.43,90.80 L344.02,92.02 L344.72,93.06Z M375.93,84.22 L378.22,85.08 L379.18,87.67 L377.40,88.10 L375.62,88.54 L377.44,90.28 L379.27,92.02 L380.45,94.63 L381.28,96.38 L382.71,99.01 L383.28,101.12 L380.69,102.00 L378.47,101.82 L376.39,100.77 L375.63,99.01 L375.97,96.38 L375.17,94.63 L373.37,92.89 L372.00,91.15 L371.00,88.54 L371.02,86.81 L372.00,85.08 L373.17,84.22 L374.55,84.22Z M387.90,85.08 L390.24,85.94 L390.31,88.54 L388.70,90.28 L386.53,88.54 L386.32,86.81Z M344.11,62.44 L341.89,60.84 L342.90,59.88 L345.42,61.16Z M348.67,60.84 L346.81,58.45 L347.90,57.97 L349.31,60.04Z M354.45,167.38 L357.10,166.32 L358.66,167.73 L357.87,169.49 L357.08,171.26 L355.05,171.78 L354.29,169.49Z" fill="#fff" stroke="#000" stroke-width="1.1"/>
</g>
<path d="M453.46,24.72 L454.43,24.97 L455.43,25.24 L456.47,25.52 L457.54,25.83 L458.64,26.17 L459.78,26.52 L460.95,26.89 L462.15,27.28 L463.37,27.69 L464.62,28.12 L465.90,28.57 L467.20,29.03 L468.53,29.51 L469.87,30.01 L471.24,30.53 L472.62,31.06 L474.03,31.61 L475.44,32.17 L476.88,32.75 L478.32,33.34 L479.78,33.94 L481.25,34.56 L482.72,35.19 L484.19,35.83 L485.66,36.48 L487.12,37.14 L488.57,37.80 L490.01,38.48 L491.42,39.16 L492.81,39.85 L494.17,40.54 L495.51,41.23 L496.82,41.93 L498.11,42.64 L499.38,43.35 L500.63,44.06 L501.86,44.78 L503.08,45.51 L504.28,46.23 L505.48,46.97 L506.66,47.70 L507.83,48.45 L509.00,49.19 L510.15,49.94 L511.30,50.70 L512.44,51.45 L513.58,52.22 L514.71,52.98 L515.83,53.75 L516.95,54.53 L518.06,55.30 L519.16,56.08 L520.26,56.87 L521.36,57.66 L522.45,58.45 L523.53,59.24 L524.61,60.04 L525.68,60.84 L526.74,61.64 L527.80,62.44 L528.85,63.25 L529.89,64.06 L530.93,64.88 L531.96,65.69 L532.98,66.51 L533.99,67.33 L535.00,68.16 L535.99,68.98 L536.98,69.81 L537.96,70.64 L538.93,71.48 L539.89,72.31 L540.84,73.15 L541.78,73.99 L542.70,74.83 L543.62,75.68 L544.52,76.52 L545.41,77.37 L546.28,78.22 L547.14,79.07 L547.98,79.93 L548.81,80.78 L549.62,81.64 L550.42,82.49 L551.22,83.35 L552.00,84.22 L552.77,85.08 L553.53,85.94 L554.29,86.81 L555.04,87.67 L555.78,88.54 L556.52,89.41 L557.26,90.28 L557.98,91.15 L558.70,92.02 L559.41,92.89 L560.11,93.76 L560.79,94.63 L561.46,95.51 L562.12,96.38 L562.77,97.26 L563.40,98.14 L564.02,99.01 L564.62,99.89 L565.22,100.77 L565.80,101.65 L566.37,102.53 L566.92,103.41 L567.47,104.29 L568.01,105.17 L568.54,106.05 L569.06,106.93 L569.57,107.81 L570.07,108.69 L570.56,109.57 L571.04,110.45 L571.51,111.33 L571.96,112.22 L572.41,113.10 L572.84,113.98 L573.26,114.86 L573.67,115.74 L574.06,116.62 L574.44,117.50 L574.81,118.39 L575.17,119.27 L575.51,120.15 L575.84,121.03 L576.16,121.91 L576.47,122.79 L576.76,123.67 L577.04,124.55 L577.32,125.43 L577.58,126.32 L577.83,127.20 L578.08,128.08 L578.33,128.96 L578.56,129.84 L578.80,130.72 L579.03,131.60 L579.27,132.48 L579.50,133.36 L579.73,134.25 L579.96,135.13 L580.18,136.01 L580.40,136.89 L580.61,137.77 L580.82,138.65 L581.02,139.53 L581.21,140.41 L581.40,141.30 L581.57,142.18 L581.74,143.06 L581.90,143.94 L582.05,144.82 L582.20,145.70 L582.34,146.58 L582.47,147.46 L582.60,148.35 L582.72,149.23 L582.83,150.11 L582.94,150.99 L583.04,151.87 L583.14,152.75 L583.23,153.63 L583.32,154.51 L583.40,155.39 L583.48,156.28 L583.55,157.16 L583.61,158.04 L583.67,158.92 L583.73,159.80 L583.78,160.68 L583.82,161.56 L583.86,162.44 L583.90,163.33 L583.93,164.21 L583.96,165.09 L583.98,165.97 L584.00,166.85 L583.98,167.73 L583.96,168.61 L583.93,169.49 L583.90,170.37 L583.86,171.26 L583.82,172.14 L583.78,173.02 L583.73,173.90 L583.67,174.78 L583.61,175.66 L583.55,176.54 L583.48,177.42 L583.40,178.31 L583.32,179.19 L583.23,180.07 L583.14,180.95 L583.04,181.83 L582.94,182.71 L582.83,183.59 L582.72,184.47 L582.60,185.35 L582.47,186.24 L582.34,187.12 L582.20,188.00 L582.05,188.88 L581.90,189.76 L581.74,190.64 L581.57,191.52 L581.40,192.40 L581.21,193.29 L581.02,194.17 L580.82,195.05 L580.61,195.93 L580.40,196.81 L580.18,197.69 L579.96,198.57 L579.73,199.45 L579.50,200.34 L579.27,201.22 L579.03,202.10 L578.80,202.98 L578.56,203.86 L578.33,204.74 L578.08,205.62 L577.83,206.50 L577.58,207.38 L577.32,208.27 L577.04,209.15 L576.76,210.03 L576.47,210.91 L576.16,211.79 L575.84,212.67 L575.51,213.55 L575.17,214.43 L574.81,215.31 L574.44,216.20 L574.06,217.08 L573.67,217.96 L573.26,218.84 L572.84,219.72 L572.41,220.60 L571.96,221.48 L571.51,222.37 L571.04,223.25 L570.56,224.13 L570.07,225.01 L569.57,225.89 L569.06,226.77 L568.54,227.65 L568.01,228.53 L567.47,229.41 L566.92,230.29 L566.37,231.17 L565.80,232.05 L565.22,232.93 L564.62,233.81 L564.02,234.69 L563.40,235.56 L562.77,236.44 L562.12,237.32 L561.46,238.19 L560.79,239.07 L560.11,239.94 L559.41,240.81 L558.70,241.68 L557.98,242.55 L557.26,243.42 L556.52,244.29 L555.78,245.16 L555.04,246.03 L554.29,246.89 L553.53,247.76 L552.77,248.62 L552.00,249.48 L551.22,250.35 L550.42,251.21 L549.62,252.06 L548.81,252.92 L547.98,253.77 L547.14,254.63 L546.28,255.48 L545.41,256.33 L544.52,257.18 L543.62,258.02 L542.70,258.87 L541.78,259.71 L540.84,260.55 L539.89,261.39 L538.93,262.22 L537.96,263.06 L536.98,263.89 L535.99,264.72 L535.00,265.54 L533.99,266.37 L532.98,267.19 L531.96,268.01 L530.93,268.82 L529.89,269.64 L528.85,270.45 L527.80,271.26 L526.74,272.06 L525.68,272.86 L524.61,273.66 L523.53,274.46 L522.45,275.25 L521.36,276.04 L520.26,276.83 L519.16,277.62 L518.06,278.40 L516.95,279.17 L515.83,279.95 L514.71,280.72 L513.58,281.48 L512.44,282.25 L511.30,283.00 L510.15,283.76 L509.00,284.51 L507.83,285.25 L506.66,286.00 L505.48,286.73 L504.28,287.47 L503.08,288.19 L501.86,288.92 L500.63,289.64 L499.38,290.35 L498.11,291.06 L496.82,291.77 L495.51,292.47 L494.17,293.16 L492.81,293.85 L491.42,294.54 L490.01,295.22 L488.57,295.90 L487.12,296.56 L485.66,297.22 L484.19,297.87 L482.72,298.51 L481.25,299.14 L479.78,299.76 L478.32,300.36 L476.88,300.95 L475.44,301.53 L474.03,302.09 L472.62,302.64 L471.24,303.17 L469.87,303.69 L468.53,304.19 L467.20,304.67 L465.90,305.13 L464.62,305.58 L463.37,306.01 L462.15,306.42 L460.95,306.81 L459.78,307.18 L458.64,307.53 L457.54,307.87 L456.47,308.18 L455.43,308.46 L454.43,308.73 L453.46,308.98 L156.44,308.98 L155.47,308.73 L154.47,308.46 L153.43,308.18 L152.36,307.87 L151.26,307.53 L150.12,307.18 L148.95,306.81 L147.75,306.42 L146.53,306.01 L145.28,305.58 L144.00,305.13 L142.70,304.67 L141.37,304.19 L140.03,303.69 L138.66,303.17 L137.28,302.64 L135.87,302.09 L134.46,301.53 L133.02,300.95 L131.58,300.36 L130.12,299.76 L128.65,299.14 L127.18,298.51 L125.71,297.87 L124.24,297.22 L122.78,296.56 L121.33,295.90 L119.89,295.22 L118.48,294.54 L117.09,293.85 L115.73,293.16 L114.39,292.47 L113.08,291.77 L111.79,291.06 L110.52,290.35 L109.27,289.64 L108.04,288.92 L106.82,288.19 L105.62,287.47 L104.42,286.73 L103.24,286.00 L102.07,285.25 L100.90,284.51 L99.75,283.76 L98.60,283.00 L97.46,282.25 L96.32,281.48 L95.19,280.72 L94.07,279.95 L92.95,279.17 L91.84,278.40 L90.74,277.62 L89.64,276.83 L88.54,276.04 L87.45,275.25 L86.37,274.46 L85.29,273.66 L84.22,272.86 L83.16,272.06 L82.10,271.26 L81.05,270.45 L80.01,269.64 L78.97,268.82 L77.94,268.01 L76.92,267.19 L75.91,266.37 L74.90,265.54 L73.91,264.72 L72.92,263.89 L71.94,263.06 L70.97,262.22 L70.01,261.39 L69.06,260.55 L68.12,259.71 L67.20,258.87 L66.28,258.02 L65.38,257.18 L64.49,256.33 L63.62,255.48 L62.76,254.63 L61.92,253.77 L61.09,252.92 L60.28,252.06 L59.48,251.21 L58.68,250.35 L57.90,249.48 L57.13,248.62 L56.37,247.76 L55.61,246.89 L54.86,246.03 L54.12,245.16 L53.38,244.29 L52.64,243.42 L51.92,242.55 L51.20,241.68 L50.49,240.81 L49.79,239.94 L49.11,239.07 L48.44,238.19 L47.78,237.32 L47.13,236.44 L46.50,235.56 L45.88,234.69 L45.28,233.81 L44.68,232.93 L44.10,232.05 L43.53,231.17 L42.98,230.29 L42.43,229.41 L41.89,228.53 L41.36,227.65 L40.84,226.77 L40.33,225.89 L39.83,225.01 L39.34,224.13 L38.86,223.25 L38.39,222.37 L37.94,221.48 L37.49,220.60 L37.06,219.72 L36.64,218.84 L36.23,217.96 L35.84,217.08 L35.46,216.20 L35.09,215.31 L34.73,214.43 L34.39,213.55 L34.06,212.67 L33.74,211.79 L33.43,210.91 L33.14,210.03 L32.86,209.15 L32.58,208.27 L32.32,207.38 L32.07,206.50 L31.82,205.62 L31.57,204.74 L31.34,203.86 L31.10,202.98 L30.87,202.10 L30.63,201.22 L30.40,200.34 L30.17,199.45 L29.94,198.57 L29.72,197.69 L29.50,196.81 L29.29,195.93 L29.08,195.05 L28.88,194.17 L28.69,193.29 L28.50,192.40 L28.33,191.52 L28.16,190.64 L28.00,189.76 L27.85,188.88 L27.70,188.00 L27.56,187.12 L27.43,186.24 L27.30,185.35 L27.18,184.47 L27.07,183.59 L26.96,182.71 L26.86,181.83 L26.76,180.95 L26.67,180.07 L26.58,179.19 L26.50,178.31 L26.42,177.42 L26.35,176.54 L26.29,175.66 L26.23,174.78 L26.17,173.90 L26.12,173.02 L26.08,172.14 L26.04,171.26 L26.00,170.37 L25.97,169.49 L25.94,168.61 L25.92,167.73 L25.90,166.85 L25.92,165.97 L25.94,165.09 L25.97,164.21 L26.00,163.33 L26.04,162.44 L26.08,161.56 L26.12,160.68 L26.17,159.80 L26.23,158.92 L26.29,158.04 L26.35,157.16 L26.42,156.28 L26.50,155.39 L26.58,154.51 L26.67,153.63 L26.76,152.75 L26.86,151.87 L26.96,150.99 L27.07,150.11 L27.18,149.23 L27.30,148.35 L27.43,147.46 L27.56,146.58 L27.70,145.70 L27.85,144.82 L28.00,143.94 L28.16,143.06 L28.33,142.18 L28.50,141.30 L28.69,140.41 L28.88,139.53 L29.08,138.65 L29.29,137.77 L29.50,136.89 L29.72,136.01 L29.94,135.13 L30.17,134.25 L30.40,133.36 L30.63,132.48 L30.87,131.60 L31.10,130.72 L31.34,129.84 L31.57,128.96 L31.82,128.08 L32.07,127.20 L32.32,126.32 L32.58,125.43 L32.86,124.55 L33.14,123.67 L33.43,122.79 L33.74,121.91 L34.06,121.03 L34.39,120.15 L34.73,119.27 L35.09,118.39 L35.46,117.50 L35.84,116.62 L36.23,115.74 L36.64,114.86 L37.06,113.98 L37.49,113.10 L37.94,112.22 L38.39,111.33 L38.86,110.45 L39.34,109.57 L39.83,108.69 L40.33,107.81 L40.84,106.93 L41.36,106.05 L41.89,105.17 L42.43,104.29 L42.98,103.41 L43.53,102.53 L44.10,101.65 L44.68,100.77 L45.28,99.89 L45.88,99.01 L46.50,98.14 L47.13,97.26 L47.78,96.38 L48.44,95.51 L49.11,94.63 L49.79,93.76 L50.49,92.89 L51.20,92.02 L51.92,91.15 L52.64,90.28 L53.38,89.41 L54.12,88.54 L54.86,87.67 L55.61,86.81 L56.37,85.94 L57.13,85.08 L57.90,84.22 L58.68,83.35 L59.48,82.49 L60.28,81.64 L61.09,80.78 L61.92,79.93 L62.76,79.07 L63.62,78.22 L64.49,77.37 L65.38,76.52 L66.28,75.68 L67.20,74.83 L68.12,73.99 L69.06,73.15 L70.01,72.31 L70.97,71.48 L71.94,70.64 L72.92,69.81 L73.91,68.98 L74.90,68.16 L75.91,67.33 L76.92,66.51 L77.94,65.69 L78.97,64.88 L80.01,64.06 L81.05,63.25 L82.10,62.44 L83.16,61.64 L84.22,60.84 L85.29,60.04 L86.37,59.24 L87.45,58.45 L88.54,57.66 L89.64,56.87 L90.74,56.08 L91.84,55.30 L92.95,54.53 L94.07,53.75 L95.19,52.98 L96.32,52.22 L97.46,51.45 L98.60,50.70 L99.75,49.94 L100.90,49.19 L102.07,48.45 L103.24,47.70 L104.42,46.97 L105.62,46.23 L106.82,45.51 L108.04,44.78 L109.27,44.06 L110.52,43.35 L111.79,42.64 L113.08,41.93 L114.39,41.23 L115.73,40.54 L117.09,39.85 L118.48,39.16 L119.89,38.48 L121.33,37.80 L122.78,37.14 L124.24,36.48 L125.71,35.83 L127.18,35.19 L128.65,34.56 L130.12,33.94 L131.58,33.34 L133.02,32.75 L134.46,32.17 L135.87,31.61 L137.28,31.06 L138.66,30.53 L140.03,30.01 L141.37,29.51 L142.70,29.03 L144.00,28.57 L145.28,28.12 L146.53,27.69 L147.75,27.28 L148.95,26.89 L150.12,26.52 L151.26,26.17 L152.36,25.83 L153.43,25.52 L154.47,25.24 L155.47,24.97 L156.44,24.72Z" fill="none" stroke="#262626" stroke-width="1.2"/>
<path d="M131.58,33.34 L136.58,33.34 M478.32,33.34 L473.32,33.34 M47.78,96.38 L52.78,96.38 M562.12,96.38 L557.12,96.38 M25.90,166.85 L30.90,166.85 M584.00,166.85 L579.00,166.85 M47.78,237.32 L52.78,237.32 M562.12,237.32 L557.12,237.32 M131.58,300.36 L136.58,300.36 M478.32,300.36 L473.32,300.36 M205.53,24.72 L200.53,27.03 M255.24,24.72 L251.20,28.45 M304.95,24.72 L304.95,30.22 M354.66,24.72 L358.70,28.45 M404.37,24.72 L409.37,27.03" stroke="#262626" stroke-width="1.1" fill="none"/>
<rect x="600.40" y="25.20" width="33.20" height="284.20" fill="#2f0e39"/>
<rect x="600.40" y="51.04" width="33.20" height="258.36" fill="#561a5e"/>
<rect x="600.40" y="76.87" width="33.20" height="232.53" fill="#72216a"/>
<rect x="600.40" y="102.71" width="33.20" height="206.69" fill="#922d6b"/>
<rect x="600.40" y="128.55" width="33.20" height="180.85" fill="#af4163"/>
<rect x="600.40" y="154.38" width="33.20" height="155.02" fill="#c85b5f"/>
<rect x="600.40" y="180.22" width="33.20" height="129.18" fill="#d07b6e"/>
<rect x="600.40" y="206.05" width="33.20" height="103.35" fill="#d9a08b"/>
<rect x="600.40" y="231.89" width="33.20" height="77.51" fill="#e1c0ae"/>
<rect x="600.40" y="257.73" width="33.20" height="51.67" fill="#f0e4e0"/>
<rect x="600.40" y="283.56" width="33.20" height="25.84" fill="#eae9e2"/>
<rect x="600.40" y="24.90" width="33.20" height="284.20" fill="none" stroke="#262626" stroke-width="1.1"/>
<text x="640.3" y="315.40" font-size="16.4" fill="#0a0a0a" font-family="'Liberation Sans', Arial, Helvetica, sans-serif">0</text>
<text x="640.3" y="268.03" font-size="16.4" fill="#0a0a0a" font-family="'Liberation Sans', Arial, Helvetica, sans-serif">2</text>
<text x="640.3" y="220.67" font-size="16.4" fill="#0a0a0a" font-family="'Liberation Sans', Arial, Helvetica, sans-serif">4</text>
<text x="640.3" y="173.30" font-size="16.4" fill="#0a0a0a" font-family="'Liberation Sans', Arial, Helvetica, sans-serif">6</text>
<text x="640.3" y="125.93" font-size="16.4" fill="#0a0a0a" font-family="'Liberation Sans', Arial, Helvetica, sans-serif">8</text>
<text x="640.3" y="78.57" font-size="16.4" fill="#0a0a0a" font-family="'Liberation Sans', Arial, Helvetica, sans-serif">10</text>
<text x="640.3" y="31.20" font-size="16.4" fill="#0a0a0a" font-family="'Liberation Sans', Arial, Helvetica, sans-serif">12</text>
<path d="M633.60,309.40 L630.60,309.40 M633.60,262.03 L630.60,262.03 M633.60,214.67 L630.60,214.67 M633.60,167.30 L630.60,167.30 M633.60,119.93 L630.60,119.93 M633.60,72.57 L630.60,72.57 M633.60,25.20 L630.60,25.20" stroke="#262626" stroke-width="1.1" fill="none"/>
<text transform="translate(680.8,167) rotate(-90)" text-anchor="middle" font-size="16.4" fill="#0a0a0a" font-family="'Liberation Sans', Arial, Helvetica, sans-serif">Max - Min of monthly climatologies</text>
<text x="126.9" y="38.6" text-anchor="end" font-size="16.4" fill="#0a0a0a" font-family="'Liberation Sans', Arial, Helvetica, sans-serif">80°N</text>
<text x="42.5" y="102.0" text-anchor="end" font-size="16.4" fill="#0a0a0a" font-family="'Liberation Sans', Arial, Helvetica, sans-serif">40°N</text>
<text x="16.6" y="172.6" text-anchor="end" font-size="16.4" fill="#0a0a0a" font-family="'Liberation Sans', Arial, Helvetica, sans-serif">0°</text>
<text x="43.4" y="243.0" text-anchor="end" font-size="16.4" fill="#0a0a0a" font-family="'Liberation Sans', Arial, Helvetica, sans-serif">40°S</text>
<text x="126.5" y="306.2" text-anchor="end" font-size="16.4" fill="#0a0a0a" font-family="'Liberation Sans', Arial, Helvetica, sans-serif">80°S</text>
<text x="206.0" y="324.6" text-anchor="middle" font-size="16.4" fill="#0a0a0a" font-family="'Liberation Sans', Arial, Helvetica, sans-serif">120°W</text>
<text x="257.0" y="324.6" text-anchor="middle" font-size="16.4" fill="#0a0a0a" font-family="'Liberation Sans', Arial, Helvetica, sans-serif">60°W</text>
<text x="307.1" y="324.6" text-anchor="middle" font-size="16.4" fill="#0a0a0a" font-family="'Liberation Sans', Arial, Helvetica, sans-serif">0°</text>
<text x="356.5" y="324.6" text-anchor="middle" font-size="16.4" fill="#0a0a0a" font-family="'Liberation Sans', Arial, Helvetica, sans-serif">60°E</text>
<text x="404.5" y="324.6" text-anchor="middle" font-size="16.4" fill="#0a0a0a" font-family="'Liberation Sans', Arial, Helvetica, sans-serif">120°E</text>
<text x="157.5" y="14.2" font-size="16.4" fill="#0a0a0a" font-family="'Liberation Sans', Arial, Helvetica, sans-serif">Climatological amplitude of Chl<tspan font-size="13.4" dy="7.6">FL</tspan><tspan dy="-7.6">:Chl</tspan><tspan font-size="13.4" dy="7.6">SAT</tspan></text>
</svg></body></html>
